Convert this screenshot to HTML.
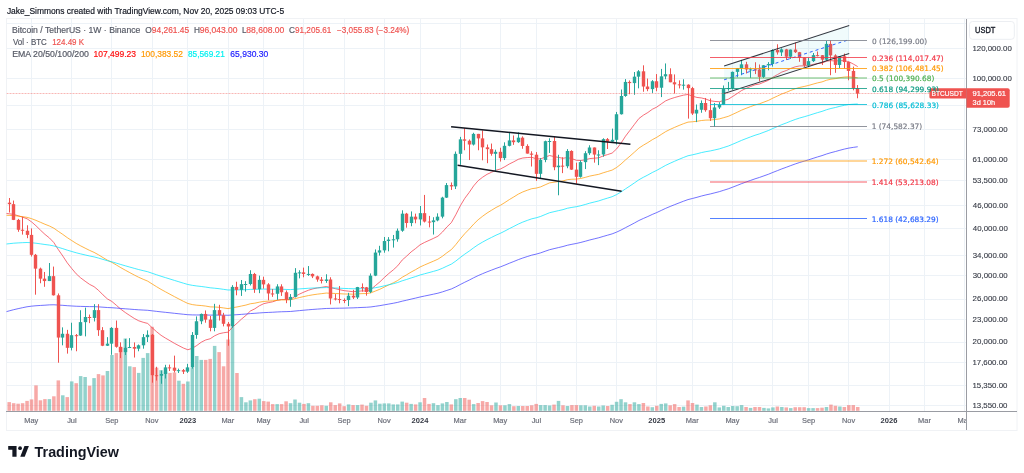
<!DOCTYPE html>
<html><head><meta charset="utf-8"><style>
*{margin:0;padding:0}
html,body{width:1024px;height:473px;background:#fff;overflow:hidden}
svg{position:absolute;left:0;top:0;display:block}
</style></head><body>
<svg width="1024" height="473" viewBox="0 0 1024 473">
<rect x="6.5" y="18.5" width="1010.5" height="412" fill="none" stroke="#f0f2f5"/>
<clipPath id="cp"><rect x="6.5" y="19" width="960" height="392"/></clipPath>
<clipPath id="cpt"><rect x="6.5" y="412" width="959.5" height="18"/></clipPath>
<g clip-path="url(#cp)">
<line x1="6.5" x2="966" y1="23.5" y2="23.5" stroke="#edf2f7"/>
<line x1="6.5" x2="966" y1="48.5" y2="48.5" stroke="#edf2f7"/>
<line x1="6.5" x2="966" y1="78.5" y2="78.5" stroke="#edf2f7"/>
<line x1="6.5" x2="966" y1="105.5" y2="105.5" stroke="#edf2f7"/>
<line x1="6.5" x2="966" y1="129.5" y2="129.5" stroke="#edf2f7"/>
<line x1="6.5" x2="966" y1="159.5" y2="159.5" stroke="#edf2f7"/>
<line x1="6.5" x2="966" y1="180.5" y2="180.5" stroke="#edf2f7"/>
<line x1="6.5" x2="966" y1="205.5" y2="205.5" stroke="#edf2f7"/>
<line x1="6.5" x2="966" y1="228.5" y2="228.5" stroke="#edf2f7"/>
<line x1="6.5" x2="966" y1="255.5" y2="255.5" stroke="#edf2f7"/>
<line x1="6.5" x2="966" y1="275.5" y2="275.5" stroke="#edf2f7"/>
<line x1="6.5" x2="966" y1="299.5" y2="299.5" stroke="#edf2f7"/>
<line x1="6.5" x2="966" y1="319.5" y2="319.5" stroke="#edf2f7"/>
<line x1="6.5" x2="966" y1="342.5" y2="342.5" stroke="#edf2f7"/>
<line x1="6.5" x2="966" y1="362.5" y2="362.5" stroke="#edf2f7"/>
<line x1="6.5" x2="966" y1="385.5" y2="385.5" stroke="#edf2f7"/>
<line x1="6.5" x2="966" y1="405.5" y2="405.5" stroke="#edf2f7"/>
<line x1="31.5" x2="31.5" y1="19" y2="411" stroke="#edf2f7"/>
<line x1="71.5" x2="71.5" y1="19" y2="411" stroke="#edf2f7"/>
<line x1="111.5" x2="111.5" y1="19" y2="411" stroke="#edf2f7"/>
<line x1="152.5" x2="152.5" y1="19" y2="411" stroke="#edf2f7"/>
<line x1="187.5" x2="187.5" y1="19" y2="411" stroke="#edf2f7"/>
<line x1="228.5" x2="228.5" y1="19" y2="411" stroke="#edf2f7"/>
<line x1="263.5" x2="263.5" y1="19" y2="411" stroke="#edf2f7"/>
<line x1="303.5" x2="303.5" y1="19" y2="411" stroke="#edf2f7"/>
<line x1="344.5" x2="344.5" y1="19" y2="411" stroke="#edf2f7"/>
<line x1="384.5" x2="384.5" y1="19" y2="411" stroke="#edf2f7"/>
<line x1="420.5" x2="420.5" y1="19" y2="411" stroke="#edf2f7"/>
<line x1="460.5" x2="460.5" y1="19" y2="411" stroke="#edf2f7"/>
<line x1="500.5" x2="500.5" y1="19" y2="411" stroke="#edf2f7"/>
<line x1="536.5" x2="536.5" y1="19" y2="411" stroke="#edf2f7"/>
<line x1="576.5" x2="576.5" y1="19" y2="411" stroke="#edf2f7"/>
<line x1="616.5" x2="616.5" y1="19" y2="411" stroke="#edf2f7"/>
<line x1="656.5" x2="656.5" y1="19" y2="411" stroke="#edf2f7"/>
<line x1="692.5" x2="692.5" y1="19" y2="411" stroke="#edf2f7"/>
<line x1="732.5" x2="732.5" y1="19" y2="411" stroke="#edf2f7"/>
<line x1="772.5" x2="772.5" y1="19" y2="411" stroke="#edf2f7"/>
<line x1="808.5" x2="808.5" y1="19" y2="411" stroke="#edf2f7"/>
<line x1="848.5" x2="848.5" y1="19" y2="411" stroke="#edf2f7"/>
<line x1="889.5" x2="889.5" y1="19" y2="411" stroke="#edf2f7"/>
<line x1="924.5" x2="924.5" y1="19" y2="411" stroke="#edf2f7"/>
<line x1="964.5" x2="964.5" y1="19" y2="411" stroke="#edf2f7"/>
<rect x="7.45" y="402.1" width="3.5" height="8.7" fill="rgba(239,83,80,0.5)"/>
<rect x="11.92" y="403.2" width="3.5" height="7.6" fill="rgba(239,83,80,0.5)"/>
<rect x="16.38" y="403.7" width="3.5" height="7.1" fill="rgba(239,83,80,0.5)"/>
<rect x="20.85" y="403.2" width="3.5" height="7.6" fill="rgba(239,83,80,0.5)"/>
<rect x="25.31" y="400.9" width="3.5" height="9.9" fill="rgba(239,83,80,0.5)"/>
<rect x="29.78" y="399.4" width="3.5" height="11.4" fill="rgba(239,83,80,0.5)"/>
<rect x="34.25" y="385.4" width="3.5" height="25.4" fill="rgba(239,83,80,0.5)"/>
<rect x="38.71" y="400.3" width="3.5" height="10.5" fill="rgba(239,83,80,0.5)"/>
<rect x="43.18" y="399.1" width="3.5" height="11.7" fill="rgba(239,83,80,0.5)"/>
<rect x="47.64" y="399.1" width="3.5" height="11.7" fill="rgba(38,166,154,0.5)"/>
<rect x="52.11" y="396.3" width="3.5" height="14.5" fill="rgba(239,83,80,0.5)"/>
<rect x="56.58" y="380.4" width="3.5" height="30.4" fill="rgba(239,83,80,0.5)"/>
<rect x="61.04" y="395.3" width="3.5" height="15.5" fill="rgba(38,166,154,0.5)"/>
<rect x="65.51" y="397.1" width="3.5" height="13.7" fill="rgba(239,83,80,0.5)"/>
<rect x="69.97" y="381.4" width="3.5" height="29.4" fill="rgba(38,166,154,0.5)"/>
<rect x="74.44" y="383.2" width="3.5" height="27.6" fill="rgba(239,83,80,0.5)"/>
<rect x="78.91" y="376.1" width="3.5" height="34.7" fill="rgba(38,166,154,0.5)"/>
<rect x="83.37" y="377" width="3.5" height="33.8" fill="rgba(38,166,154,0.5)"/>
<rect x="87.84" y="385.7" width="3.5" height="25.1" fill="rgba(239,83,80,0.5)"/>
<rect x="92.3" y="378.1" width="3.5" height="32.7" fill="rgba(38,166,154,0.5)"/>
<rect x="96.77" y="374.1" width="3.5" height="36.7" fill="rgba(239,83,80,0.5)"/>
<rect x="101.24" y="375.4" width="3.5" height="35.4" fill="rgba(239,83,80,0.5)"/>
<rect x="105.7" y="371" width="3.5" height="39.8" fill="rgba(38,166,154,0.5)"/>
<rect x="110.17" y="355" width="3.5" height="55.8" fill="rgba(38,166,154,0.5)"/>
<rect x="114.63" y="353.1" width="3.5" height="57.7" fill="rgba(239,83,80,0.5)"/>
<rect x="119.1" y="347.2" width="3.5" height="63.6" fill="rgba(239,83,80,0.5)"/>
<rect x="123.57" y="338.5" width="3.5" height="72.3" fill="rgba(38,166,154,0.5)"/>
<rect x="128.03" y="366.3" width="3.5" height="44.5" fill="rgba(38,166,154,0.5)"/>
<rect x="132.5" y="367.1" width="3.5" height="43.7" fill="rgba(239,83,80,0.5)"/>
<rect x="136.96" y="372.9" width="3.5" height="37.9" fill="rgba(38,166,154,0.5)"/>
<rect x="141.43" y="357.9" width="3.5" height="52.9" fill="rgba(38,166,154,0.5)"/>
<rect x="145.9" y="353.1" width="3.5" height="57.7" fill="rgba(38,166,154,0.5)"/>
<rect x="150.36" y="326.8" width="3.5" height="84" fill="rgba(239,83,80,0.5)"/>
<rect x="154.83" y="367.7" width="3.5" height="43.1" fill="rgba(239,83,80,0.5)"/>
<rect x="159.29" y="370.2" width="3.5" height="40.6" fill="rgba(38,166,154,0.5)"/>
<rect x="163.76" y="371.6" width="3.5" height="39.2" fill="rgba(38,166,154,0.5)"/>
<rect x="168.23" y="372.9" width="3.5" height="37.9" fill="rgba(239,83,80,0.5)"/>
<rect x="172.69" y="372.5" width="3.5" height="38.3" fill="rgba(239,83,80,0.5)"/>
<rect x="177.16" y="380.7" width="3.5" height="30.1" fill="rgba(38,166,154,0.5)"/>
<rect x="181.62" y="383.8" width="3.5" height="27" fill="rgba(239,83,80,0.5)"/>
<rect x="186.09" y="381.5" width="3.5" height="29.3" fill="rgba(38,166,154,0.5)"/>
<rect x="190.56" y="367.7" width="3.5" height="43.1" fill="rgba(38,166,154,0.5)"/>
<rect x="195.02" y="356" width="3.5" height="54.8" fill="rgba(38,166,154,0.5)"/>
<rect x="199.49" y="359.9" width="3.5" height="50.9" fill="rgba(38,166,154,0.5)"/>
<rect x="203.95" y="359.9" width="3.5" height="50.9" fill="rgba(239,83,80,0.5)"/>
<rect x="208.42" y="358.9" width="3.5" height="51.9" fill="rgba(239,83,80,0.5)"/>
<rect x="212.89" y="345.9" width="3.5" height="64.9" fill="rgba(38,166,154,0.5)"/>
<rect x="217.35" y="352.1" width="3.5" height="58.7" fill="rgba(239,83,80,0.5)"/>
<rect x="221.82" y="366.3" width="3.5" height="44.5" fill="rgba(239,83,80,0.5)"/>
<rect x="226.28" y="339.5" width="3.5" height="71.3" fill="rgba(239,83,80,0.5)"/>
<rect x="230.75" y="327" width="3.5" height="83.8" fill="rgba(38,166,154,0.5)"/>
<rect x="235.22" y="373" width="3.5" height="37.8" fill="rgba(239,83,80,0.5)"/>
<rect x="239.68" y="397.1" width="3.5" height="13.7" fill="rgba(38,166,154,0.5)"/>
<rect x="244.15" y="402.3" width="3.5" height="8.5" fill="rgba(38,166,154,0.5)"/>
<rect x="248.61" y="400.4" width="3.5" height="10.4" fill="rgba(38,166,154,0.5)"/>
<rect x="253.08" y="399.2" width="3.5" height="11.6" fill="rgba(239,83,80,0.5)"/>
<rect x="257.55" y="398.7" width="3.5" height="12.1" fill="rgba(38,166,154,0.5)"/>
<rect x="262.01" y="401.1" width="3.5" height="9.7" fill="rgba(239,83,80,0.5)"/>
<rect x="266.48" y="401.6" width="3.5" height="9.2" fill="rgba(239,83,80,0.5)"/>
<rect x="270.94" y="404.1" width="3.5" height="6.7" fill="rgba(239,83,80,0.5)"/>
<rect x="275.41" y="404.1" width="3.5" height="6.7" fill="rgba(38,166,154,0.5)"/>
<rect x="279.88" y="404.1" width="3.5" height="6.7" fill="rgba(239,83,80,0.5)"/>
<rect x="284.34" y="401.3" width="3.5" height="9.5" fill="rgba(239,83,80,0.5)"/>
<rect x="288.81" y="403.2" width="3.5" height="7.6" fill="rgba(38,166,154,0.5)"/>
<rect x="293.27" y="399.5" width="3.5" height="11.3" fill="rgba(38,166,154,0.5)"/>
<rect x="297.74" y="402.7" width="3.5" height="8.1" fill="rgba(38,166,154,0.5)"/>
<rect x="302.21" y="403.9" width="3.5" height="6.9" fill="rgba(239,83,80,0.5)"/>
<rect x="306.67" y="403.2" width="3.5" height="7.6" fill="rgba(38,166,154,0.5)"/>
<rect x="311.14" y="405.8" width="3.5" height="5" fill="rgba(239,83,80,0.5)"/>
<rect x="315.6" y="405.8" width="3.5" height="5" fill="rgba(239,83,80,0.5)"/>
<rect x="320.07" y="405.3" width="3.5" height="5.5" fill="rgba(239,83,80,0.5)"/>
<rect x="324.54" y="405.8" width="3.5" height="5" fill="rgba(38,166,154,0.5)"/>
<rect x="329" y="402.3" width="3.5" height="8.5" fill="rgba(239,83,80,0.5)"/>
<rect x="333.47" y="405.1" width="3.5" height="5.7" fill="rgba(239,83,80,0.5)"/>
<rect x="337.93" y="403.4" width="3.5" height="7.4" fill="rgba(239,83,80,0.5)"/>
<rect x="342.4" y="406.2" width="3.5" height="4.6" fill="rgba(239,83,80,0.5)"/>
<rect x="346.87" y="404.4" width="3.5" height="6.4" fill="rgba(38,166,154,0.5)"/>
<rect x="351.33" y="405.1" width="3.5" height="5.7" fill="rgba(239,83,80,0.5)"/>
<rect x="355.8" y="405.1" width="3.5" height="5.7" fill="rgba(38,166,154,0.5)"/>
<rect x="360.26" y="404.6" width="3.5" height="6.2" fill="rgba(239,83,80,0.5)"/>
<rect x="364.73" y="405.8" width="3.5" height="5" fill="rgba(239,83,80,0.5)"/>
<rect x="369.2" y="402.7" width="3.5" height="8.1" fill="rgba(38,166,154,0.5)"/>
<rect x="373.66" y="400.4" width="3.5" height="10.4" fill="rgba(38,166,154,0.5)"/>
<rect x="378.13" y="403.7" width="3.5" height="7.1" fill="rgba(38,166,154,0.5)"/>
<rect x="382.59" y="403.4" width="3.5" height="7.4" fill="rgba(38,166,154,0.5)"/>
<rect x="387.06" y="403.4" width="3.5" height="7.4" fill="rgba(38,166,154,0.5)"/>
<rect x="391.53" y="404.4" width="3.5" height="6.4" fill="rgba(38,166,154,0.5)"/>
<rect x="395.99" y="404.4" width="3.5" height="6.4" fill="rgba(38,166,154,0.5)"/>
<rect x="400.46" y="401.6" width="3.5" height="9.2" fill="rgba(38,166,154,0.5)"/>
<rect x="404.92" y="402.7" width="3.5" height="8.1" fill="rgba(239,83,80,0.5)"/>
<rect x="409.39" y="403.9" width="3.5" height="6.9" fill="rgba(38,166,154,0.5)"/>
<rect x="413.86" y="404.4" width="3.5" height="6.4" fill="rgba(239,83,80,0.5)"/>
<rect x="418.32" y="402.3" width="3.5" height="8.5" fill="rgba(38,166,154,0.5)"/>
<rect x="422.79" y="398" width="3.5" height="12.8" fill="rgba(239,83,80,0.5)"/>
<rect x="427.25" y="403.9" width="3.5" height="6.9" fill="rgba(239,83,80,0.5)"/>
<rect x="431.72" y="403.2" width="3.5" height="7.6" fill="rgba(38,166,154,0.5)"/>
<rect x="436.19" y="405.1" width="3.5" height="5.7" fill="rgba(38,166,154,0.5)"/>
<rect x="440.65" y="403.4" width="3.5" height="7.4" fill="rgba(38,166,154,0.5)"/>
<rect x="445.12" y="402" width="3.5" height="8.8" fill="rgba(38,166,154,0.5)"/>
<rect x="449.58" y="404.4" width="3.5" height="6.4" fill="rgba(239,83,80,0.5)"/>
<rect x="454.05" y="399.2" width="3.5" height="11.6" fill="rgba(38,166,154,0.5)"/>
<rect x="458.52" y="398" width="3.5" height="12.8" fill="rgba(38,166,154,0.5)"/>
<rect x="462.98" y="398" width="3.5" height="12.8" fill="rgba(239,83,80,0.5)"/>
<rect x="467.45" y="399.7" width="3.5" height="11.1" fill="rgba(239,83,80,0.5)"/>
<rect x="471.91" y="404.1" width="3.5" height="6.7" fill="rgba(38,166,154,0.5)"/>
<rect x="476.38" y="403" width="3.5" height="7.8" fill="rgba(239,83,80,0.5)"/>
<rect x="480.85" y="401.1" width="3.5" height="9.7" fill="rgba(239,83,80,0.5)"/>
<rect x="485.31" y="402" width="3.5" height="8.8" fill="rgba(239,83,80,0.5)"/>
<rect x="489.78" y="405.3" width="3.5" height="5.5" fill="rgba(239,83,80,0.5)"/>
<rect x="494.24" y="402.5" width="3.5" height="8.3" fill="rgba(38,166,154,0.5)"/>
<rect x="498.71" y="405.3" width="3.5" height="5.5" fill="rgba(239,83,80,0.5)"/>
<rect x="503.18" y="405.3" width="3.5" height="5.5" fill="rgba(38,166,154,0.5)"/>
<rect x="507.64" y="404.1" width="3.5" height="6.7" fill="rgba(38,166,154,0.5)"/>
<rect x="512.11" y="406.2" width="3.5" height="4.6" fill="rgba(239,83,80,0.5)"/>
<rect x="516.57" y="406" width="3.5" height="4.8" fill="rgba(38,166,154,0.5)"/>
<rect x="521.04" y="406" width="3.5" height="4.8" fill="rgba(239,83,80,0.5)"/>
<rect x="525.51" y="406" width="3.5" height="4.8" fill="rgba(239,83,80,0.5)"/>
<rect x="529.97" y="405.3" width="3.5" height="5.5" fill="rgba(239,83,80,0.5)"/>
<rect x="534.44" y="403.9" width="3.5" height="6.9" fill="rgba(239,83,80,0.5)"/>
<rect x="538.9" y="405.1" width="3.5" height="5.7" fill="rgba(38,166,154,0.5)"/>
<rect x="543.37" y="405.1" width="3.5" height="5.7" fill="rgba(38,166,154,0.5)"/>
<rect x="547.84" y="405.5" width="3.5" height="5.3" fill="rgba(38,166,154,0.5)"/>
<rect x="552.3" y="404.6" width="3.5" height="6.2" fill="rgba(239,83,80,0.5)"/>
<rect x="556.77" y="400.9" width="3.5" height="9.9" fill="rgba(38,166,154,0.5)"/>
<rect x="561.23" y="405.3" width="3.5" height="5.5" fill="rgba(239,83,80,0.5)"/>
<rect x="565.7" y="406" width="3.5" height="4.8" fill="rgba(38,166,154,0.5)"/>
<rect x="570.17" y="405.1" width="3.5" height="5.7" fill="rgba(239,83,80,0.5)"/>
<rect x="574.63" y="405.1" width="3.5" height="5.7" fill="rgba(239,83,80,0.5)"/>
<rect x="579.1" y="405.3" width="3.5" height="5.5" fill="rgba(38,166,154,0.5)"/>
<rect x="583.56" y="405.3" width="3.5" height="5.5" fill="rgba(38,166,154,0.5)"/>
<rect x="588.03" y="406.5" width="3.5" height="4.3" fill="rgba(38,166,154,0.5)"/>
<rect x="592.5" y="405.8" width="3.5" height="5" fill="rgba(239,83,80,0.5)"/>
<rect x="596.96" y="406.5" width="3.5" height="4.3" fill="rgba(38,166,154,0.5)"/>
<rect x="601.43" y="405.5" width="3.5" height="5.3" fill="rgba(38,166,154,0.5)"/>
<rect x="605.89" y="406" width="3.5" height="4.8" fill="rgba(239,83,80,0.5)"/>
<rect x="610.36" y="404.8" width="3.5" height="6" fill="rgba(38,166,154,0.5)"/>
<rect x="614.83" y="401.8" width="3.5" height="9" fill="rgba(38,166,154,0.5)"/>
<rect x="619.29" y="399.2" width="3.5" height="11.6" fill="rgba(38,166,154,0.5)"/>
<rect x="623.76" y="402.3" width="3.5" height="8.5" fill="rgba(38,166,154,0.5)"/>
<rect x="628.22" y="404.1" width="3.5" height="6.7" fill="rgba(239,83,80,0.5)"/>
<rect x="632.69" y="402.3" width="3.5" height="8.5" fill="rgba(38,166,154,0.5)"/>
<rect x="637.16" y="404.1" width="3.5" height="6.7" fill="rgba(38,166,154,0.5)"/>
<rect x="641.62" y="403" width="3.5" height="7.8" fill="rgba(239,83,80,0.5)"/>
<rect x="646.09" y="406.5" width="3.5" height="4.3" fill="rgba(239,83,80,0.5)"/>
<rect x="650.55" y="407.2" width="3.5" height="3.6" fill="rgba(38,166,154,0.5)"/>
<rect x="655.02" y="405.8" width="3.5" height="5" fill="rgba(239,83,80,0.5)"/>
<rect x="659.49" y="403.9" width="3.5" height="6.9" fill="rgba(38,166,154,0.5)"/>
<rect x="663.95" y="403.4" width="3.5" height="7.4" fill="rgba(38,166,154,0.5)"/>
<rect x="668.42" y="405.3" width="3.5" height="5.5" fill="rgba(239,83,80,0.5)"/>
<rect x="672.88" y="404.1" width="3.5" height="6.7" fill="rgba(239,83,80,0.5)"/>
<rect x="677.35" y="407" width="3.5" height="3.8" fill="rgba(239,83,80,0.5)"/>
<rect x="681.82" y="406.7" width="3.5" height="4.1" fill="rgba(38,166,154,0.5)"/>
<rect x="686.28" y="400.4" width="3.5" height="10.4" fill="rgba(239,83,80,0.5)"/>
<rect x="690.75" y="403" width="3.5" height="7.8" fill="rgba(239,83,80,0.5)"/>
<rect x="695.21" y="404.6" width="3.5" height="6.2" fill="rgba(38,166,154,0.5)"/>
<rect x="699.68" y="407" width="3.5" height="3.8" fill="rgba(38,166,154,0.5)"/>
<rect x="704.15" y="406.5" width="3.5" height="4.3" fill="rgba(239,83,80,0.5)"/>
<rect x="708.61" y="405.3" width="3.5" height="5.5" fill="rgba(239,83,80,0.5)"/>
<rect x="713.08" y="402.3" width="3.5" height="8.5" fill="rgba(38,166,154,0.5)"/>
<rect x="717.54" y="407.4" width="3.5" height="3.4" fill="rgba(38,166,154,0.5)"/>
<rect x="722.01" y="405.8" width="3.5" height="5" fill="rgba(38,166,154,0.5)"/>
<rect x="726.48" y="407" width="3.5" height="3.8" fill="rgba(38,166,154,0.5)"/>
<rect x="730.94" y="406" width="3.5" height="4.8" fill="rgba(38,166,154,0.5)"/>
<rect x="735.41" y="406.2" width="3.5" height="4.6" fill="rgba(38,166,154,0.5)"/>
<rect x="739.87" y="405.1" width="3.5" height="5.7" fill="rgba(38,166,154,0.5)"/>
<rect x="744.34" y="407" width="3.5" height="3.8" fill="rgba(239,83,80,0.5)"/>
<rect x="748.81" y="407.9" width="3.5" height="2.9" fill="rgba(38,166,154,0.5)"/>
<rect x="753.27" y="407" width="3.5" height="3.8" fill="rgba(239,83,80,0.5)"/>
<rect x="757.74" y="407" width="3.5" height="3.8" fill="rgba(239,83,80,0.5)"/>
<rect x="762.2" y="407.9" width="3.5" height="2.9" fill="rgba(38,166,154,0.5)"/>
<rect x="766.67" y="408.4" width="3.5" height="2.4" fill="rgba(38,166,154,0.5)"/>
<rect x="771.14" y="407.4" width="3.5" height="3.4" fill="rgba(38,166,154,0.5)"/>
<rect x="775.6" y="406.5" width="3.5" height="4.3" fill="rgba(239,83,80,0.5)"/>
<rect x="780.07" y="407" width="3.5" height="3.8" fill="rgba(38,166,154,0.5)"/>
<rect x="784.53" y="407.4" width="3.5" height="3.4" fill="rgba(239,83,80,0.5)"/>
<rect x="789" y="408.1" width="3.5" height="2.7" fill="rgba(38,166,154,0.5)"/>
<rect x="793.47" y="407.2" width="3.5" height="3.6" fill="rgba(239,83,80,0.5)"/>
<rect x="797.93" y="407.2" width="3.5" height="3.6" fill="rgba(239,83,80,0.5)"/>
<rect x="802.4" y="407.2" width="3.5" height="3.6" fill="rgba(239,83,80,0.5)"/>
<rect x="806.86" y="408.1" width="3.5" height="2.7" fill="rgba(38,166,154,0.5)"/>
<rect x="811.33" y="408.1" width="3.5" height="2.7" fill="rgba(38,166,154,0.5)"/>
<rect x="815.8" y="408.1" width="3.5" height="2.7" fill="rgba(239,83,80,0.5)"/>
<rect x="820.26" y="407.7" width="3.5" height="3.1" fill="rgba(239,83,80,0.5)"/>
<rect x="824.73" y="407" width="3.5" height="3.8" fill="rgba(38,166,154,0.5)"/>
<rect x="829.19" y="404.6" width="3.5" height="6.2" fill="rgba(239,83,80,0.5)"/>
<rect x="833.66" y="405.8" width="3.5" height="5" fill="rgba(239,83,80,0.5)"/>
<rect x="838.13" y="406.5" width="3.5" height="4.3" fill="rgba(38,166,154,0.5)"/>
<rect x="842.59" y="407" width="3.5" height="3.8" fill="rgba(239,83,80,0.5)"/>
<rect x="847.06" y="405.1" width="3.5" height="5.7" fill="rgba(239,83,80,0.5)"/>
<rect x="851.52" y="405.1" width="3.5" height="5.7" fill="rgba(239,83,80,0.5)"/>
<rect x="855.99" y="407" width="3.5" height="3.8" fill="rgba(239,83,80,0.5)"/>
<polyline points="4.73,213.24 9.2,213.81 13.67,214.38 18.13,215.78 22.6,217.15 27.06,218.76 31.53,221.87 36,225.79 40.46,230.15 44.93,234.37 49.39,237.92 53.86,242.6 58.33,249.61 62.79,256 67.26,262.84 71.72,268.5 76.19,273.83 80.66,277.86 85.12,281.21 89.59,284.37 94.05,286.66 98.52,290.34 102.99,294.88 107.45,298.94 111.92,301.49 116.38,305.3 120.85,309.23 125.32,312.54 129.78,315.52 134.25,318.41 138.71,320.79 143.18,322.28 147.65,323.43 152.11,327.71 156.58,331.72 161.04,335.31 165.51,338.11 169.98,340.7 174.44,343.34 178.91,345.71 183.37,348.01 187.84,349.76 192.31,348.29 196.77,345.51 201.24,342.23 205.7,339.94 210.17,338.75 214.64,335.8 219.1,333.72 223.57,332.75 228.03,332.14 232.5,327.25 236.97,323.3 241.43,319.15 245.9,315.45 250.36,311.02 254.83,308.82 259.3,305.83 263.76,303.66 268.23,302.66 272.69,301.8 277.16,300.27 281.63,299.49 286.09,299.51 290.56,299.26 295.02,296.54 299.49,294.08 303.96,292.06 308.42,290.24 312.89,288.87 317.35,287.95 321.82,287.27 326.29,286.51 330.75,287.62 335.22,288.67 339.68,289.71 344.15,290.67 348.62,291.15 353.08,291.74 357.55,291.29 362.01,290.91 366.48,291.01 370.95,289.48 375.41,285.59 379.88,281.88 384.34,277.53 388.81,273.51 393.28,269.92 397.74,265.76 402.21,260.02 406.67,256.11 411.14,251.92 415.61,248.53 420.07,244.81 424.54,242.45 429,240.41 433.47,238.39 437.94,236.19 442.4,232.1 446.87,227 451.33,222.66 455.8,214.71 460.27,205.84 464.73,198.4 469.2,192.43 473.66,185.86 478.13,180.7 482.6,177.21 487.06,174.32 491.53,172.25 495.99,170.19 500.46,169 504.93,166.65 509.39,163.96 513.86,161.76 518.32,159.31 522.79,157.99 527.26,157.56 531.72,157.29 536.19,158.79 540.65,158.9 545.12,157.13 549.59,155.53 554.05,156.6 558.52,157.44 562.98,158.26 567.45,157.55 571.92,158.67 576.38,160.31 580.85,160.49 585.31,159.78 589.78,158.57 594.25,158.18 598.71,157.83 603.18,155.96 607.64,154.55 612.11,153.09 616.58,148.96 621.04,143.11 625.51,136.2 629.97,130.33 634.44,124.39 638.91,118.53 643.37,115.2 647.84,112.52 652.3,109.27 656.77,107.09 661.24,103.9 665.7,100.83 670.17,98.97 674.63,97.52 679.1,96.28 683.57,95.14 688.03,94.46 692.5,96.18 696.96,97.43 701.43,97.95 705.9,99.08 710.36,100.81 714.83,101.43 719.29,101.74 723.76,100.49 728.23,99.26 732.69,96.45 737.16,93.54 741.62,90.52 746.09,88.4 750.56,86.49 755.02,84.79 759.49,84.03 763.95,82.14 768.42,80.33 772.89,77.19 777.35,74.66 781.82,72.07 786.28,70.54 790.75,68.43 795.22,66.81 799.68,65.92 804.15,65.88 808.61,65.42 813.08,64.41 817.55,63.51 822.01,63.15 826.48,61.21 830.94,60.65 835.41,61.06 839.88,60.6 844.34,60.73 848.81,61.68 853.27,64.02 857.74,66.61" fill="none" stroke="#f23645" stroke-width="1" opacity="0.72"/>
<polyline points="4.73,215.23 9.2,215.4 13.67,215.58 18.13,216.11 22.6,216.66 27.06,217.34 31.53,218.66 36,220.36 40.46,222.29 44.93,224.24 49.39,225.99 53.86,228.22 58.33,231.38 62.79,234.4 67.26,237.64 71.72,240.55 76.19,243.4 80.66,245.87 85.12,248.15 89.59,250.39 94.05,252.36 98.52,254.81 102.99,257.57 107.45,260.21 111.92,262.4 116.38,265.01 120.85,267.68 125.32,270.19 129.78,272.61 134.25,275.01 138.71,277.27 143.18,279.25 147.65,281.11 152.11,283.94 156.58,286.72 161.04,289.39 165.51,291.84 169.98,294.24 174.44,296.65 178.91,298.99 183.37,301.31 187.84,303.45 192.31,304.58 196.77,305.21 201.24,305.54 205.7,306.07 210.17,306.87 214.64,307 219.1,307.31 223.57,307.93 228.03,308.62 232.5,307.71 236.97,306.97 241.43,306.02 245.9,305.09 250.36,303.76 254.83,303.16 259.3,302.18 263.76,301.45 268.23,301.13 272.69,300.83 277.16,300.24 281.63,299.92 286.09,299.91 290.56,299.8 295.02,298.65 299.49,297.53 303.96,296.54 308.42,295.59 312.89,294.8 317.35,294.17 321.82,293.63 326.29,293.05 330.75,293.26 335.22,293.48 339.68,293.73 344.15,293.98 348.62,294.05 353.08,294.18 357.55,293.89 362.01,293.63 366.48,293.56 370.95,292.82 375.41,291.04 379.88,289.24 384.34,287.06 388.81,284.92 393.28,282.86 397.74,280.47 402.21,277.27 406.67,274.77 411.14,272.06 415.61,269.64 420.07,267.01 424.54,264.97 429,263.06 433.47,261.16 437.94,259.17 442.4,256.27 446.87,252.81 451.33,249.63 455.8,244.6 460.27,238.91 464.73,233.72 469.2,229.13 473.66,224.14 478.13,219.78 482.6,216.24 487.06,213.02 491.53,210.25 495.99,207.52 500.46,205.27 504.93,202.49 509.39,199.55 513.86,196.88 518.32,194.11 522.79,191.93 527.26,190.24 531.72,188.69 536.19,188.08 540.65,186.88 545.12,184.83 549.59,182.87 554.05,182.23 558.52,181.55 562.98,180.92 567.45,179.63 571.92,179.23 576.38,179.14 580.85,178.44 585.31,177.37 589.78,176.09 594.25,175.19 598.71,174.33 603.18,172.8 607.64,171.46 612.11,170.1 616.58,167.51 621.04,164.03 625.51,159.9 629.97,156.1 634.44,152.14 638.91,148.09 643.37,145.19 647.84,142.59 652.3,139.69 656.77,137.31 661.24,134.44 665.7,131.61 670.17,129.37 674.63,127.35 679.1,125.46 683.57,123.66 688.03,122.11 692.5,121.76 696.96,121.27 701.43,120.52 705.9,120.1 710.36,120.03 714.83,119.52 719.29,118.91 723.76,117.63 728.23,116.36 732.69,114.37 737.16,112.29 741.62,110.12 746.09,108.32 750.56,106.61 755.02,104.98 759.49,103.79 763.95,102.09 768.42,100.42 772.89,98.12 777.35,96.07 781.82,93.96 786.28,92.33 790.75,90.42 795.22,88.74 799.68,87.41 804.15,86.49 808.61,85.42 813.08,84.12 817.55,82.88 822.01,81.91 826.48,80.24 830.94,79.19 835.41,78.61 839.88,77.67 844.34,77.03 848.81,76.79 853.27,77.22 857.74,77.83" fill="none" stroke="#ff9800" stroke-width="1" opacity="0.72"/>
<polyline points="4.73,244.21 9.2,243.7 13.67,243.19 18.13,242.92 22.6,242.67 27.06,242.51 31.53,242.74 36,243.22 40.46,243.85 44.93,244.51 49.39,245.08 53.86,245.94 58.33,247.34 62.79,248.67 67.26,250.15 71.72,251.47 76.19,252.78 80.66,253.9 85.12,254.94 89.59,255.98 94.05,256.89 98.52,258.07 102.99,259.42 107.45,260.73 111.92,261.82 116.38,263.14 120.85,264.5 125.32,265.8 129.78,267.08 134.25,268.35 138.71,269.57 143.18,270.67 147.65,271.73 152.11,273.25 156.58,274.77 161.04,276.25 165.51,277.64 169.98,279.02 174.44,280.41 178.91,281.79 183.37,283.16 187.84,284.47 192.31,285.33 196.77,285.97 201.24,286.48 205.7,287.08 210.17,287.79 214.64,288.21 219.1,288.7 223.57,289.33 228.03,289.99 232.5,289.93 236.97,289.93 241.43,289.81 245.9,289.69 250.36,289.37 254.83,289.36 259.3,289.17 263.76,289.07 268.23,289.16 272.69,289.25 277.16,289.19 281.63,289.25 286.09,289.45 290.56,289.6 295.02,289.25 299.49,288.9 303.96,288.59 308.42,288.28 312.89,288.04 317.35,287.87 321.82,287.73 326.29,287.56 330.75,287.77 335.22,287.98 339.68,288.21 344.15,288.44 348.62,288.58 353.08,288.75 357.55,288.72 362.01,288.69 366.48,288.76 370.95,288.49 375.41,287.69 379.88,286.86 384.34,285.82 388.81,284.77 393.28,283.73 397.74,282.5 402.21,280.81 406.67,279.44 411.14,277.94 415.61,276.55 420.07,275.02 424.54,273.78 429,272.58 433.47,271.37 437.94,270.09 442.4,268.29 446.87,266.16 451.33,264.13 455.8,261.05 460.27,257.51 464.73,254.17 469.2,251.11 473.66,247.75 478.13,244.7 482.6,242.08 487.06,239.63 491.53,237.41 495.99,235.2 500.46,233.26 504.93,230.99 509.39,228.61 513.86,226.37 518.32,224.05 522.79,222.08 527.26,220.41 531.72,218.82 536.19,217.8 540.65,216.43 545.12,214.55 549.59,212.72 554.05,211.68 558.52,210.63 562.98,209.63 567.45,208.24 571.92,207.38 576.38,206.71 580.85,205.7 585.31,204.48 589.78,203.14 594.25,202.02 598.71,200.93 603.18,199.45 607.64,198.09 612.11,196.71 616.58,194.6 621.04,191.94 625.51,188.87 629.97,185.95 634.44,182.9 638.91,179.76 643.37,177.29 647.84,175 652.3,172.51 656.77,170.33 661.24,167.83 665.7,165.35 670.17,163.22 674.63,161.23 679.1,159.31 683.57,157.45 688.03,155.75 692.5,154.8 696.96,153.78 701.43,152.6 705.9,151.65 710.36,150.91 714.83,149.93 719.29,148.9 723.76,147.48 728.23,146.07 732.69,144.22 737.16,142.31 741.62,140.35 746.09,138.6 750.56,136.9 755.02,135.26 759.49,133.88 763.95,132.2 768.42,130.53 772.89,128.49 777.35,126.58 781.82,124.64 786.28,122.98 790.75,121.15 795.22,119.47 799.68,117.99 804.15,116.77 808.61,115.46 813.08,114.02 817.55,112.63 822.01,111.39 826.48,109.75 830.94,108.48 835.41,107.49 839.88,106.31 844.34,105.3 848.81,104.55 853.27,104.21 857.74,103.99" fill="none" stroke="#00e5ff" stroke-width="1" opacity="0.72"/>
<polyline points="4.73,312.11 9.2,310.89 13.67,309.69 18.13,308.67 22.6,307.68 27.06,306.77 31.53,306.16 36,305.74 40.46,305.45 44.93,305.19 49.39,304.87 53.86,304.77 58.33,305.07 62.79,305.33 67.26,305.7 71.72,305.97 76.19,306.24 80.66,306.39 85.12,306.5 89.59,306.61 94.05,306.64 98.52,306.86 102.99,307.2 107.45,307.53 111.92,307.72 116.38,308.06 120.85,308.45 125.32,308.8 129.78,309.14 134.25,309.49 138.71,309.81 143.18,310.06 147.65,310.29 152.11,310.82 156.58,311.36 161.04,311.87 165.51,312.34 169.98,312.81 174.44,313.3 178.91,313.78 183.37,314.26 187.84,314.71 192.31,314.9 196.77,314.97 201.24,314.95 205.7,315 210.17,315.12 214.64,315.07 219.1,315.07 223.57,315.16 228.03,315.27 232.5,314.96 236.97,314.69 241.43,314.36 245.9,314.03 250.36,313.58 254.83,313.31 259.3,312.95 263.76,312.64 268.23,312.43 272.69,312.24 277.16,311.96 281.63,311.75 286.09,311.63 290.56,311.47 295.02,311.04 299.49,310.61 303.96,310.2 308.42,309.79 312.89,309.43 317.35,309.1 321.82,308.79 326.29,308.48 330.75,308.37 335.22,308.28 339.68,308.19 344.15,308.11 348.62,307.98 353.08,307.87 357.55,307.65 362.01,307.44 366.48,307.28 370.95,306.93 375.41,306.29 379.88,305.63 384.34,304.84 388.81,304.05 393.28,303.26 397.74,302.35 402.21,301.18 406.67,300.19 411.14,299.11 415.61,298.09 420.07,296.99 424.54,296.04 429,295.11 433.47,294.17 437.94,293.19 442.4,291.9 446.87,290.41 451.33,288.97 455.8,286.89 460.27,284.53 464.73,282.25 469.2,280.12 473.66,277.78 478.13,275.61 482.6,273.68 487.06,271.84 491.53,270.13 495.99,268.41 500.46,266.85 504.93,265.08 509.39,263.23 513.86,261.46 518.32,259.63 522.79,258 527.26,256.55 531.72,255.15 536.19,254.11 540.65,252.85 545.12,251.26 549.59,249.71 554.05,248.64 558.52,247.57 562.98,246.53 567.45,245.24 571.92,244.29 576.38,243.46 580.85,242.41 585.31,241.24 589.78,239.98 594.25,238.87 598.71,237.78 603.18,236.44 607.64,235.17 612.11,233.88 616.58,232.14 621.04,230.04 625.51,227.66 629.97,225.37 634.44,222.97 638.91,220.51 643.37,218.46 647.84,216.51 652.3,214.43 656.77,212.54 661.24,210.44 665.7,208.34 670.17,206.46 674.63,204.66 679.1,202.92 683.57,201.2 688.03,199.59 692.5,198.46 696.96,197.3 701.43,196.03 705.9,194.91 710.36,193.94 714.83,192.81 719.29,191.66 723.76,190.24 728.23,188.84 732.69,187.15 737.16,185.42 741.62,183.64 746.09,182.01 750.56,180.41 755.02,178.84 759.49,177.43 763.95,175.84 768.42,174.25 772.89,172.41 777.35,170.66 781.82,168.88 786.28,167.28 790.75,165.58 795.22,163.96 799.68,162.48 804.15,161.17 808.61,159.8 813.08,158.35 817.55,156.93 822.01,155.61 826.48,154.02 830.94,152.68 835.41,151.53 839.88,150.25 844.34,149.09 848.81,148.1 853.27,147.38 857.74,146.75" fill="none" stroke="#3d3dff" stroke-width="1" opacity="0.72"/>
<line x1="9.5" x2="9.5" y1="198" y2="212.52" stroke="#ef5350" stroke-width="1"/>
<rect x="7.8" y="202.69" width="3.4" height="1.48" fill="#ef5350"/>
<line x1="13.5" x2="13.5" y1="200.55" y2="220.09" stroke="#ef5350" stroke-width="1"/>
<rect x="11.8" y="204.17" width="3.4" height="15.72" fill="#ef5350"/>
<line x1="18.5" x2="18.5" y1="218.9" y2="231.81" stroke="#ef5350" stroke-width="1"/>
<rect x="16.8" y="219.89" width="3.4" height="9.88" fill="#ef5350"/>
<line x1="22.5" x2="22.5" y1="216.75" y2="234.6" stroke="#ef5350" stroke-width="1"/>
<rect x="20.8" y="229.77" width="3.4" height="1" fill="#ef5350"/>
<line x1="27.5" x2="27.5" y1="225.27" y2="238.19" stroke="#ef5350" stroke-width="1"/>
<rect x="25.8" y="230.76" width="3.4" height="4.12" fill="#ef5350"/>
<line x1="31.5" x2="31.5" y1="228.4" y2="256.5" stroke="#ef5350" stroke-width="1"/>
<rect x="29.8" y="234.89" width="3.4" height="19.93" fill="#ef5350"/>
<line x1="35.5" x2="35.5" y1="253.94" y2="294.69" stroke="#ef5350" stroke-width="1"/>
<rect x="33.8" y="254.82" width="3.4" height="13.81" fill="#ef5350"/>
<line x1="40.5" x2="40.5" y1="267.62" y2="283.26" stroke="#ef5350" stroke-width="1"/>
<rect x="38.8" y="268.63" width="3.4" height="10.03" fill="#ef5350"/>
<line x1="44.5" x2="44.5" y1="271.96" y2="286.79" stroke="#ef5350" stroke-width="1"/>
<rect x="42.8" y="278.66" width="3.4" height="2.39" fill="#ef5350"/>
<line x1="49.5" x2="49.5" y1="263" y2="281.05" stroke="#26a69a" stroke-width="1"/>
<rect x="47.8" y="276.15" width="3.4" height="4.9" fill="#26a69a"/>
<line x1="53.5" x2="53.5" y1="266.58" y2="295.55" stroke="#ef5350" stroke-width="1"/>
<rect x="51.8" y="276.15" width="3.4" height="19.15" fill="#ef5350"/>
<line x1="58.5" x2="58.5" y1="293.47" y2="362.73" stroke="#ef5350" stroke-width="1"/>
<rect x="56.8" y="295.3" width="3.4" height="42.26" fill="#ef5350"/>
<line x1="62.5" x2="62.5" y1="327.36" y2="345.31" stroke="#26a69a" stroke-width="1"/>
<rect x="60.8" y="333.78" width="3.4" height="3.78" fill="#26a69a"/>
<line x1="67.5" x2="67.5" y1="329.85" y2="353.62" stroke="#ef5350" stroke-width="1"/>
<rect x="65.8" y="333.78" width="3.4" height="14.06" fill="#ef5350"/>
<line x1="71.5" x2="71.5" y1="322.71" y2="350.4" stroke="#26a69a" stroke-width="1"/>
<rect x="69.8" y="335.19" width="3.4" height="12.65" fill="#26a69a"/>
<line x1="76.5" x2="76.5" y1="334.01" y2="351.26" stroke="#ef5350" stroke-width="1"/>
<rect x="74.8" y="335.19" width="3.4" height="1" fill="#ef5350"/>
<line x1="80.5" x2="80.5" y1="310.25" y2="335.89" stroke="#26a69a" stroke-width="1"/>
<rect x="78.8" y="322.13" width="3.4" height="13.45" fill="#26a69a"/>
<line x1="85.5" x2="85.5" y1="307.64" y2="336.37" stroke="#26a69a" stroke-width="1"/>
<rect x="83.8" y="316.99" width="3.4" height="5.14" fill="#26a69a"/>
<line x1="89.5" x2="89.5" y1="314.55" y2="323.15" stroke="#ef5350" stroke-width="1"/>
<rect x="87.8" y="316.99" width="3.4" height="1" fill="#ef5350"/>
<line x1="94.5" x2="94.5" y1="304.16" y2="321.48" stroke="#26a69a" stroke-width="1"/>
<rect x="92.8" y="310.11" width="3.4" height="7.8" fill="#26a69a"/>
<line x1="98.5" x2="98.5" y1="304.16" y2="335.89" stroke="#ef5350" stroke-width="1"/>
<rect x="96.8" y="310.11" width="3.4" height="20.05" fill="#ef5350"/>
<line x1="102.5" x2="102.5" y1="327.14" y2="346.15" stroke="#ef5350" stroke-width="1"/>
<rect x="100.8" y="330.16" width="3.4" height="15.57" fill="#ef5350"/>
<line x1="107.5" x2="107.5" y1="337.16" y2="345.98" stroke="#26a69a" stroke-width="1"/>
<rect x="105.8" y="343.65" width="3.4" height="2.08" fill="#26a69a"/>
<line x1="111.5" x2="111.5" y1="327.14" y2="354.77" stroke="#26a69a" stroke-width="1"/>
<rect x="109.8" y="327.89" width="3.4" height="15.76" fill="#26a69a"/>
<line x1="116.5" x2="116.5" y1="320.54" y2="347.66" stroke="#ef5350" stroke-width="1"/>
<rect x="114.8" y="327.89" width="3.4" height="18.93" fill="#ef5350"/>
<line x1="120.5" x2="120.5" y1="342.33" y2="358.12" stroke="#ef5350" stroke-width="1"/>
<rect x="118.8" y="346.82" width="3.4" height="5.31" fill="#ef5350"/>
<line x1="125.5" x2="125.5" y1="338.92" y2="355.03" stroke="#26a69a" stroke-width="1"/>
<rect x="123.8" y="347.83" width="3.4" height="4.3" fill="#26a69a"/>
<line x1="129.5" x2="129.5" y1="338.12" y2="348.09" stroke="#26a69a" stroke-width="1"/>
<rect x="127.8" y="346.99" width="3.4" height="1" fill="#26a69a"/>
<line x1="134.5" x2="134.5" y1="342.41" y2="357.53" stroke="#ef5350" stroke-width="1"/>
<rect x="132.8" y="346.99" width="3.4" height="1.7" fill="#ef5350"/>
<line x1="138.5" x2="138.5" y1="344.48" y2="351.26" stroke="#26a69a" stroke-width="1"/>
<rect x="136.8" y="345.31" width="3.4" height="3.38" fill="#26a69a"/>
<line x1="143.5" x2="143.5" y1="334.01" y2="348.69" stroke="#26a69a" stroke-width="1"/>
<rect x="141.8" y="337.16" width="3.4" height="8.15" fill="#26a69a"/>
<line x1="147.5" x2="147.5" y1="330.39" y2="342" stroke="#26a69a" stroke-width="1"/>
<rect x="145.8" y="334.79" width="3.4" height="2.37" fill="#26a69a"/>
<line x1="152.5" x2="152.5" y1="334.01" y2="382.69" stroke="#ef5350" stroke-width="1"/>
<rect x="150.8" y="334.79" width="3.4" height="40.4" fill="#ef5350"/>
<line x1="156.5" x2="156.5" y1="366.79" y2="380.6" stroke="#ef5350" stroke-width="1"/>
<rect x="154.8" y="375.2" width="3.4" height="1" fill="#ef5350"/>
<line x1="161.5" x2="161.5" y1="370.55" y2="383.74" stroke="#26a69a" stroke-width="1"/>
<rect x="159.8" y="374" width="3.4" height="1.7" fill="#26a69a"/>
<line x1="165.5" x2="165.5" y1="364.8" y2="378.54" stroke="#26a69a" stroke-width="1"/>
<rect x="163.8" y="367.37" width="3.4" height="6.63" fill="#26a69a"/>
<line x1="169.5" x2="169.5" y1="364.62" y2="371.04" stroke="#ef5350" stroke-width="1"/>
<rect x="167.8" y="367.37" width="3.4" height="1" fill="#ef5350"/>
<line x1="174.5" x2="174.5" y1="355.65" y2="372.51" stroke="#ef5350" stroke-width="1"/>
<rect x="172.8" y="367.65" width="3.4" height="3.09" fill="#ef5350"/>
<line x1="178.5" x2="178.5" y1="368.61" y2="373.01" stroke="#26a69a" stroke-width="1"/>
<rect x="176.8" y="370.16" width="3.4" height="1" fill="#26a69a"/>
<line x1="183.5" x2="183.5" y1="369" y2="374" stroke="#ef5350" stroke-width="1"/>
<rect x="181.8" y="370.16" width="3.4" height="1.47" fill="#ef5350"/>
<line x1="187.5" x2="187.5" y1="363.87" y2="372.91" stroke="#26a69a" stroke-width="1"/>
<rect x="185.8" y="367.37" width="3.4" height="4.26" fill="#26a69a"/>
<line x1="192.5" x2="192.5" y1="332.07" y2="368.61" stroke="#26a69a" stroke-width="1"/>
<rect x="190.8" y="334.95" width="3.4" height="32.42" fill="#26a69a"/>
<line x1="196.5" x2="196.5" y1="316.43" y2="338.76" stroke="#26a69a" stroke-width="1"/>
<rect x="194.8" y="321.26" width="3.4" height="13.69" fill="#26a69a"/>
<line x1="201.5" x2="201.5" y1="313.52" y2="324.18" stroke="#26a69a" stroke-width="1"/>
<rect x="199.8" y="313.93" width="3.4" height="7.34" fill="#26a69a"/>
<line x1="205.5" x2="205.5" y1="310.45" y2="322.71" stroke="#ef5350" stroke-width="1"/>
<rect x="203.8" y="313.93" width="3.4" height="5.68" fill="#ef5350"/>
<line x1="210.5" x2="210.5" y1="315.94" y2="331.3" stroke="#ef5350" stroke-width="1"/>
<rect x="208.8" y="319.61" width="3.4" height="8.28" fill="#ef5350"/>
<line x1="214.5" x2="214.5" y1="303.83" y2="331.3" stroke="#26a69a" stroke-width="1"/>
<rect x="212.8" y="310.11" width="3.4" height="17.78" fill="#26a69a"/>
<line x1="219.5" x2="219.5" y1="304.81" y2="320.54" stroke="#ef5350" stroke-width="1"/>
<rect x="217.8" y="310.11" width="3.4" height="5.13" fill="#ef5350"/>
<line x1="223.5" x2="223.5" y1="312.83" y2="326.39" stroke="#ef5350" stroke-width="1"/>
<rect x="221.8" y="315.24" width="3.4" height="8.56" fill="#ef5350"/>
<line x1="228.5" x2="228.5" y1="321.99" y2="345.73" stroke="#ef5350" stroke-width="1"/>
<rect x="226.8" y="323.81" width="3.4" height="2.66" fill="#ef5350"/>
<line x1="232.5" x2="232.5" y1="285.16" y2="327.89" stroke="#26a69a" stroke-width="1"/>
<rect x="230.8" y="286.9" width="3.4" height="39.56" fill="#26a69a"/>
<line x1="236.5" x2="236.5" y1="281.72" y2="295.3" stroke="#ef5350" stroke-width="1"/>
<rect x="234.8" y="286.9" width="3.4" height="2.95" fill="#ef5350"/>
<line x1="241.5" x2="241.5" y1="280.03" y2="295.92" stroke="#26a69a" stroke-width="1"/>
<rect x="239.8" y="284.18" width="3.4" height="5.68" fill="#26a69a"/>
<line x1="245.5" x2="245.5" y1="281.16" y2="291.65" stroke="#26a69a" stroke-width="1"/>
<rect x="243.8" y="284" width="3.4" height="1" fill="#26a69a"/>
<line x1="250.5" x2="250.5" y1="270.24" y2="285.45" stroke="#26a69a" stroke-width="1"/>
<rect x="248.8" y="273.98" width="3.4" height="10.03" fill="#26a69a"/>
<line x1="254.5" x2="254.5" y1="272.9" y2="292.86" stroke="#ef5350" stroke-width="1"/>
<rect x="252.8" y="273.98" width="3.4" height="15.28" fill="#ef5350"/>
<line x1="259.5" x2="259.5" y1="275.61" y2="293.16" stroke="#26a69a" stroke-width="1"/>
<rect x="257.8" y="279.86" width="3.4" height="9.4" fill="#26a69a"/>
<line x1="263.5" x2="263.5" y1="276.7" y2="288.67" stroke="#ef5350" stroke-width="1"/>
<rect x="261.8" y="279.86" width="3.4" height="4.54" fill="#ef5350"/>
<line x1="268.5" x2="268.5" y1="283.15" y2="300.3" stroke="#ef5350" stroke-width="1"/>
<rect x="266.8" y="284.41" width="3.4" height="9.06" fill="#ef5350"/>
<line x1="272.5" x2="272.5" y1="288.96" y2="296.85" stroke="#ef5350" stroke-width="1"/>
<rect x="270.8" y="293.47" width="3.4" height="1" fill="#ef5350"/>
<line x1="277.5" x2="277.5" y1="284.23" y2="299.8" stroke="#26a69a" stroke-width="1"/>
<rect x="275.8" y="286.44" width="3.4" height="7.33" fill="#26a69a"/>
<line x1="281.5" x2="281.5" y1="284.29" y2="295.92" stroke="#ef5350" stroke-width="1"/>
<rect x="279.8" y="286.44" width="3.4" height="5.82" fill="#ef5350"/>
<line x1="286.5" x2="286.5" y1="290.45" y2="303.18" stroke="#ef5350" stroke-width="1"/>
<rect x="284.8" y="292.25" width="3.4" height="7.42" fill="#ef5350"/>
<line x1="290.5" x2="290.5" y1="294.08" y2="306.78" stroke="#26a69a" stroke-width="1"/>
<rect x="288.8" y="296.91" width="3.4" height="2.76" fill="#26a69a"/>
<line x1="295.5" x2="295.5" y1="268.14" y2="297.47" stroke="#26a69a" stroke-width="1"/>
<rect x="293.8" y="272.79" width="3.4" height="24.12" fill="#26a69a"/>
<line x1="299.5" x2="299.5" y1="270.24" y2="278.36" stroke="#26a69a" stroke-width="1"/>
<rect x="297.8" y="272.36" width="3.4" height="1" fill="#26a69a"/>
<line x1="303.5" x2="303.5" y1="267.62" y2="277.25" stroke="#ef5350" stroke-width="1"/>
<rect x="301.8" y="272.36" width="3.4" height="1.61" fill="#ef5350"/>
<line x1="308.5" x2="308.5" y1="266.06" y2="275.88" stroke="#26a69a" stroke-width="1"/>
<rect x="306.8" y="273.92" width="3.4" height="1" fill="#26a69a"/>
<line x1="312.5" x2="312.5" y1="273.44" y2="278.08" stroke="#ef5350" stroke-width="1"/>
<rect x="310.8" y="273.92" width="3.4" height="2.45" fill="#ef5350"/>
<line x1="317.5" x2="317.5" y1="275.61" y2="281.72" stroke="#ef5350" stroke-width="1"/>
<rect x="315.8" y="276.37" width="3.4" height="3.16" fill="#ef5350"/>
<line x1="321.5" x2="321.5" y1="276.98" y2="283.43" stroke="#ef5350" stroke-width="1"/>
<rect x="319.8" y="279.53" width="3.4" height="1.4" fill="#ef5350"/>
<line x1="326.5" x2="326.5" y1="274.25" y2="282.86" stroke="#26a69a" stroke-width="1"/>
<rect x="324.8" y="279.47" width="3.4" height="1.46" fill="#26a69a"/>
<line x1="330.5" x2="330.5" y1="277.25" y2="304.42" stroke="#ef5350" stroke-width="1"/>
<rect x="328.8" y="279.47" width="3.4" height="19" fill="#ef5350"/>
<line x1="335.5" x2="335.5" y1="294.08" y2="300.43" stroke="#ef5350" stroke-width="1"/>
<rect x="333.8" y="298.47" width="3.4" height="1" fill="#ef5350"/>
<line x1="339.5" x2="339.5" y1="286.03" y2="303.31" stroke="#ef5350" stroke-width="1"/>
<rect x="337.8" y="299.04" width="3.4" height="1" fill="#ef5350"/>
<line x1="344.5" x2="344.5" y1="298.41" y2="303.12" stroke="#ef5350" stroke-width="1"/>
<rect x="342.8" y="299.99" width="3.4" height="1" fill="#ef5350"/>
<line x1="348.5" x2="348.5" y1="292.86" y2="306.12" stroke="#26a69a" stroke-width="1"/>
<rect x="346.8" y="295.73" width="3.4" height="4.32" fill="#26a69a"/>
<line x1="353.5" x2="353.5" y1="289.85" y2="299.04" stroke="#ef5350" stroke-width="1"/>
<rect x="351.8" y="295.73" width="3.4" height="1.74" fill="#ef5350"/>
<line x1="357.5" x2="357.5" y1="286.9" y2="299.04" stroke="#26a69a" stroke-width="1"/>
<rect x="355.8" y="287.08" width="3.4" height="10.39" fill="#26a69a"/>
<line x1="362.5" x2="362.5" y1="283.43" y2="291.65" stroke="#ef5350" stroke-width="1"/>
<rect x="360.8" y="287.08" width="3.4" height="1" fill="#ef5350"/>
<line x1="366.5" x2="366.5" y1="286.96" y2="295.67" stroke="#ef5350" stroke-width="1"/>
<rect x="364.8" y="287.31" width="3.4" height="4.64" fill="#ef5350"/>
<line x1="370.5" x2="370.5" y1="273.44" y2="293.1" stroke="#26a69a" stroke-width="1"/>
<rect x="368.8" y="275.66" width="3.4" height="16.29" fill="#26a69a"/>
<line x1="375.5" x2="375.5" y1="249.43" y2="276.15" stroke="#26a69a" stroke-width="1"/>
<rect x="373.8" y="252.58" width="3.4" height="23.08" fill="#26a69a"/>
<line x1="379.5" x2="379.5" y1="245.8" y2="255.59" stroke="#26a69a" stroke-width="1"/>
<rect x="377.8" y="250.36" width="3.4" height="2.21" fill="#26a69a"/>
<line x1="384.5" x2="384.5" y1="236.98" y2="252.72" stroke="#26a69a" stroke-width="1"/>
<rect x="382.8" y="241.04" width="3.4" height="9.32" fill="#26a69a"/>
<line x1="388.5" x2="388.5" y1="237.11" y2="251.3" stroke="#26a69a" stroke-width="1"/>
<rect x="386.8" y="239.59" width="3.4" height="1.45" fill="#26a69a"/>
<line x1="393.5" x2="393.5" y1="234.97" y2="247.58" stroke="#26a69a" stroke-width="1"/>
<rect x="391.8" y="239.28" width="3.4" height="1" fill="#26a69a"/>
<line x1="397.5" x2="397.5" y1="228.5" y2="241.71" stroke="#26a69a" stroke-width="1"/>
<rect x="395.8" y="230.72" width="3.4" height="8.56" fill="#26a69a"/>
<line x1="402.5" x2="402.5" y1="210.31" y2="231.81" stroke="#26a69a" stroke-width="1"/>
<rect x="400.8" y="213.67" width="3.4" height="17.05" fill="#26a69a"/>
<line x1="406.5" x2="406.5" y1="212.89" y2="227.68" stroke="#ef5350" stroke-width="1"/>
<rect x="404.8" y="213.67" width="3.4" height="9.35" fill="#ef5350"/>
<line x1="411.5" x2="411.5" y1="211.41" y2="226.26" stroke="#26a69a" stroke-width="1"/>
<rect x="409.8" y="216.66" width="3.4" height="6.37" fill="#26a69a"/>
<line x1="415.5" x2="415.5" y1="213.64" y2="223.26" stroke="#ef5350" stroke-width="1"/>
<rect x="413.8" y="216.66" width="3.4" height="2.77" fill="#ef5350"/>
<line x1="420.5" x2="420.5" y1="205.97" y2="225.46" stroke="#26a69a" stroke-width="1"/>
<rect x="418.8" y="213.15" width="3.4" height="6.27" fill="#26a69a"/>
<line x1="424.5" x2="424.5" y1="194.93" y2="222.47" stroke="#ef5350" stroke-width="1"/>
<rect x="422.8" y="213.15" width="3.4" height="8.41" fill="#ef5350"/>
<line x1="429.5" x2="429.5" y1="215.9" y2="227.36" stroke="#ef5350" stroke-width="1"/>
<rect x="427.8" y="221.56" width="3.4" height="1" fill="#ef5350"/>
<line x1="433.5" x2="433.5" y1="217.23" y2="234.54" stroke="#26a69a" stroke-width="1"/>
<rect x="431.8" y="220.39" width="3.4" height="1.76" fill="#26a69a"/>
<line x1="437.5" x2="437.5" y1="213.34" y2="221.29" stroke="#26a69a" stroke-width="1"/>
<rect x="435.8" y="216.66" width="3.4" height="3.74" fill="#26a69a"/>
<line x1="442.5" x2="442.5" y1="196.78" y2="218.34" stroke="#26a69a" stroke-width="1"/>
<rect x="440.8" y="197.62" width="3.4" height="19.03" fill="#26a69a"/>
<line x1="446.5" x2="446.5" y1="183.04" y2="197.96" stroke="#26a69a" stroke-width="1"/>
<rect x="444.8" y="185.1" width="3.4" height="12.53" fill="#26a69a"/>
<line x1="451.5" x2="451.5" y1="182.48" y2="189.94" stroke="#ef5350" stroke-width="1"/>
<rect x="449.8" y="185.1" width="3.4" height="1.29" fill="#ef5350"/>
<line x1="455.5" x2="455.5" y1="151.53" y2="189.04" stroke="#26a69a" stroke-width="1"/>
<rect x="453.8" y="153.83" width="3.4" height="32.56" fill="#26a69a"/>
<line x1="460.5" x2="460.5" y1="136.86" y2="164.86" stroke="#26a69a" stroke-width="1"/>
<rect x="458.8" y="139.34" width="3.4" height="14.49" fill="#26a69a"/>
<line x1="464.5" x2="464.5" y1="128.2" y2="150.26" stroke="#ef5350" stroke-width="1"/>
<rect x="462.8" y="139.34" width="3.4" height="1.38" fill="#ef5350"/>
<line x1="469.5" x2="469.5" y1="139.45" y2="160.04" stroke="#ef5350" stroke-width="1"/>
<rect x="467.8" y="140.72" width="3.4" height="3.8" fill="#ef5350"/>
<line x1="473.5" x2="473.5" y1="132.77" y2="145.51" stroke="#26a69a" stroke-width="1"/>
<rect x="471.8" y="133.89" width="3.4" height="10.63" fill="#26a69a"/>
<line x1="478.5" x2="478.5" y1="133.89" y2="150.26" stroke="#ef5350" stroke-width="1"/>
<rect x="476.8" y="133.89" width="3.4" height="4.47" fill="#ef5350"/>
<line x1="482.5" x2="482.5" y1="130.44" y2="160.31" stroke="#ef5350" stroke-width="1"/>
<rect x="480.8" y="138.36" width="3.4" height="8.98" fill="#ef5350"/>
<line x1="487.5" x2="487.5" y1="144.52" y2="163.2" stroke="#ef5350" stroke-width="1"/>
<rect x="485.8" y="147.34" width="3.4" height="1.81" fill="#ef5350"/>
<line x1="491.5" x2="491.5" y1="143.55" y2="155.68" stroke="#ef5350" stroke-width="1"/>
<rect x="489.8" y="149.15" width="3.4" height="4.65" fill="#ef5350"/>
<line x1="495.5" x2="495.5" y1="149.68" y2="171.8" stroke="#26a69a" stroke-width="1"/>
<rect x="493.8" y="151.82" width="3.4" height="1.99" fill="#26a69a"/>
<line x1="500.5" x2="500.5" y1="147.74" y2="161.56" stroke="#ef5350" stroke-width="1"/>
<rect x="498.8" y="151.82" width="3.4" height="6.3" fill="#ef5350"/>
<line x1="504.5" x2="504.5" y1="142.33" y2="160.07" stroke="#26a69a" stroke-width="1"/>
<rect x="502.8" y="145.83" width="3.4" height="12.29" fill="#26a69a"/>
<line x1="509.5" x2="509.5" y1="132.29" y2="146.37" stroke="#26a69a" stroke-width="1"/>
<rect x="507.8" y="140.41" width="3.4" height="5.42" fill="#26a69a"/>
<line x1="513.5" x2="513.5" y1="135.46" y2="144.89" stroke="#ef5350" stroke-width="1"/>
<rect x="511.8" y="140.41" width="3.4" height="1.78" fill="#ef5350"/>
<line x1="518.5" x2="518.5" y1="132.36" y2="142.82" stroke="#26a69a" stroke-width="1"/>
<rect x="516.8" y="137.68" width="3.4" height="4.5" fill="#26a69a"/>
<line x1="522.5" x2="522.5" y1="136.39" y2="148.74" stroke="#ef5350" stroke-width="1"/>
<rect x="520.8" y="137.68" width="3.4" height="8.27" fill="#ef5350"/>
<line x1="527.5" x2="527.5" y1="144.28" y2="153.59" stroke="#ef5350" stroke-width="1"/>
<rect x="525.8" y="145.95" width="3.4" height="7.64" fill="#ef5350"/>
<line x1="531.5" x2="531.5" y1="151.28" y2="166.53" stroke="#ef5350" stroke-width="1"/>
<rect x="529.8" y="153.59" width="3.4" height="1.12" fill="#ef5350"/>
<line x1="536.5" x2="536.5" y1="152.05" y2="180.88" stroke="#ef5350" stroke-width="1"/>
<rect x="534.8" y="154.71" width="3.4" height="19.13" fill="#ef5350"/>
<line x1="540.5" x2="540.5" y1="158.06" y2="178.57" stroke="#26a69a" stroke-width="1"/>
<rect x="538.8" y="159.93" width="3.4" height="13.91" fill="#26a69a"/>
<line x1="545.5" x2="545.5" y1="140.65" y2="162.24" stroke="#26a69a" stroke-width="1"/>
<rect x="543.8" y="141.2" width="3.4" height="18.74" fill="#26a69a"/>
<line x1="549.5" x2="549.5" y1="138.27" y2="152.95" stroke="#26a69a" stroke-width="1"/>
<rect x="547.8" y="141.01" width="3.4" height="1" fill="#26a69a"/>
<line x1="554.5" x2="554.5" y1="136.67" y2="170.22" stroke="#ef5350" stroke-width="1"/>
<rect x="552.8" y="141.01" width="3.4" height="26.2" fill="#ef5350"/>
<line x1="558.5" x2="558.5" y1="154.76" y2="195.27" stroke="#26a69a" stroke-width="1"/>
<rect x="556.8" y="165.66" width="3.4" height="1.54" fill="#26a69a"/>
<line x1="562.5" x2="562.5" y1="157.26" y2="173.11" stroke="#ef5350" stroke-width="1"/>
<rect x="560.8" y="165.66" width="3.4" height="1" fill="#ef5350"/>
<line x1="567.5" x2="567.5" y1="149.12" y2="168.22" stroke="#26a69a" stroke-width="1"/>
<rect x="565.8" y="150.97" width="3.4" height="15.28" fill="#26a69a"/>
<line x1="571.5" x2="571.5" y1="150.26" y2="169.93" stroke="#ef5350" stroke-width="1"/>
<rect x="569.8" y="150.97" width="3.4" height="18.67" fill="#ef5350"/>
<line x1="576.5" x2="576.5" y1="162.65" y2="183.81" stroke="#ef5350" stroke-width="1"/>
<rect x="574.8" y="169.64" width="3.4" height="7.19" fill="#ef5350"/>
<line x1="580.5" x2="580.5" y1="160.28" y2="177.61" stroke="#26a69a" stroke-width="1"/>
<rect x="578.8" y="162.13" width="3.4" height="14.7" fill="#26a69a"/>
<line x1="585.5" x2="585.5" y1="151.2" y2="169.07" stroke="#26a69a" stroke-width="1"/>
<rect x="583.8" y="153.21" width="3.4" height="8.92" fill="#26a69a"/>
<line x1="589.5" x2="589.5" y1="145.26" y2="154.9" stroke="#26a69a" stroke-width="1"/>
<rect x="587.8" y="147.49" width="3.4" height="5.72" fill="#26a69a"/>
<line x1="594.5" x2="594.5" y1="147.49" y2="162.65" stroke="#ef5350" stroke-width="1"/>
<rect x="592.8" y="147.49" width="3.4" height="7.09" fill="#ef5350"/>
<line x1="598.5" x2="598.5" y1="150.26" y2="165.13" stroke="#26a69a" stroke-width="1"/>
<rect x="596.8" y="154.5" width="3.4" height="1" fill="#26a69a"/>
<line x1="603.5" x2="603.5" y1="138.27" y2="156.73" stroke="#26a69a" stroke-width="1"/>
<rect x="601.8" y="139.15" width="3.4" height="15.36" fill="#26a69a"/>
<line x1="607.5" x2="607.5" y1="138.03" y2="149" stroke="#ef5350" stroke-width="1"/>
<rect x="605.8" y="139.15" width="3.4" height="2.58" fill="#ef5350"/>
<line x1="612.5" x2="612.5" y1="128.6" y2="142.82" stroke="#26a69a" stroke-width="1"/>
<rect x="610.8" y="139.84" width="3.4" height="1.89" fill="#26a69a"/>
<line x1="616.5" x2="616.5" y1="111.95" y2="144.52" stroke="#26a69a" stroke-width="1"/>
<rect x="614.8" y="114.24" width="3.4" height="25.6" fill="#26a69a"/>
<line x1="621.5" x2="621.5" y1="89.5" y2="114.59" stroke="#26a69a" stroke-width="1"/>
<rect x="619.8" y="96" width="3.4" height="18.24" fill="#26a69a"/>
<line x1="625.5" x2="625.5" y1="79.11" y2="96.8" stroke="#26a69a" stroke-width="1"/>
<rect x="623.8" y="81.93" width="3.4" height="14.07" fill="#26a69a"/>
<line x1="629.5" x2="629.5" y1="80.43" y2="94.26" stroke="#ef5350" stroke-width="1"/>
<rect x="627.8" y="81.93" width="3.4" height="1.18" fill="#ef5350"/>
<line x1="634.5" x2="634.5" y1="72.03" y2="94.8" stroke="#26a69a" stroke-width="1"/>
<rect x="632.8" y="76.66" width="3.4" height="6.44" fill="#26a69a"/>
<line x1="638.5" x2="638.5" y1="70.08" y2="88.33" stroke="#26a69a" stroke-width="1"/>
<rect x="636.8" y="71.31" width="3.4" height="5.35" fill="#26a69a"/>
<line x1="643.5" x2="643.5" y1="65.32" y2="91.75" stroke="#ef5350" stroke-width="1"/>
<rect x="641.8" y="71.31" width="3.4" height="15.22" fill="#ef5350"/>
<line x1="647.5" x2="647.5" y1="78.54" y2="91.22" stroke="#ef5350" stroke-width="1"/>
<rect x="645.8" y="86.53" width="3.4" height="2.58" fill="#ef5350"/>
<line x1="652.5" x2="652.5" y1="80.13" y2="92.95" stroke="#26a69a" stroke-width="1"/>
<rect x="650.8" y="81.25" width="3.4" height="7.86" fill="#26a69a"/>
<line x1="656.5" x2="656.5" y1="74.09" y2="91.22" stroke="#ef5350" stroke-width="1"/>
<rect x="654.8" y="81.25" width="3.4" height="6.47" fill="#ef5350"/>
<line x1="661.5" x2="661.5" y1="68.91" y2="97.08" stroke="#26a69a" stroke-width="1"/>
<rect x="659.8" y="76.34" width="3.4" height="11.38" fill="#26a69a"/>
<line x1="665.5" x2="665.5" y1="63.44" y2="79.28" stroke="#26a69a" stroke-width="1"/>
<rect x="663.8" y="74.22" width="3.4" height="2.12" fill="#26a69a"/>
<line x1="670.5" x2="670.5" y1="68.3" y2="82.27" stroke="#ef5350" stroke-width="1"/>
<rect x="668.8" y="74.22" width="3.4" height="8.05" fill="#ef5350"/>
<line x1="674.5" x2="674.5" y1="74.41" y2="93.54" stroke="#ef5350" stroke-width="1"/>
<rect x="672.8" y="82.27" width="3.4" height="2.09" fill="#ef5350"/>
<line x1="679.5" x2="679.5" y1="80.38" y2="88.43" stroke="#ef5350" stroke-width="1"/>
<rect x="677.8" y="84.36" width="3.4" height="1" fill="#ef5350"/>
<line x1="683.5" x2="683.5" y1="79.28" y2="89.64" stroke="#26a69a" stroke-width="1"/>
<rect x="681.8" y="84.7" width="3.4" height="1" fill="#26a69a"/>
<line x1="688.5" x2="688.5" y1="84.29" y2="118.62" stroke="#ef5350" stroke-width="1"/>
<rect x="686.8" y="84.7" width="3.4" height="3.42" fill="#ef5350"/>
<line x1="692.5" x2="692.5" y1="86.85" y2="114.99" stroke="#ef5350" stroke-width="1"/>
<rect x="690.8" y="88.12" width="3.4" height="25.39" fill="#ef5350"/>
<line x1="696.5" x2="696.5" y1="104.49" y2="122.11" stroke="#26a69a" stroke-width="1"/>
<rect x="694.8" y="109.76" width="3.4" height="3.75" fill="#26a69a"/>
<line x1="701.5" x2="701.5" y1="100.41" y2="112.76" stroke="#26a69a" stroke-width="1"/>
<rect x="699.8" y="103" width="3.4" height="6.76" fill="#26a69a"/>
<line x1="705.5" x2="705.5" y1="97.98" y2="111.75" stroke="#ef5350" stroke-width="1"/>
<rect x="703.8" y="103" width="3.4" height="7.17" fill="#ef5350"/>
<line x1="710.5" x2="710.5" y1="98.46" y2="120.93" stroke="#ef5350" stroke-width="1"/>
<rect x="708.8" y="110.17" width="3.4" height="8.07" fill="#ef5350"/>
<line x1="714.5" x2="714.5" y1="102.96" y2="126.66" stroke="#26a69a" stroke-width="1"/>
<rect x="712.8" y="107.47" width="3.4" height="10.77" fill="#26a69a"/>
<line x1="719.5" x2="719.5" y1="102.2" y2="108.97" stroke="#26a69a" stroke-width="1"/>
<rect x="717.8" y="104.74" width="3.4" height="2.73" fill="#26a69a"/>
<line x1="723.5" x2="723.5" y1="85.48" y2="105.07" stroke="#26a69a" stroke-width="1"/>
<rect x="721.8" y="89.02" width="3.4" height="15.72" fill="#26a69a"/>
<line x1="728.5" x2="728.5" y1="81.93" y2="90.69" stroke="#26a69a" stroke-width="1"/>
<rect x="726.8" y="88.07" width="3.4" height="1" fill="#26a69a"/>
<line x1="732.5" x2="732.5" y1="71.56" y2="89.72" stroke="#26a69a" stroke-width="1"/>
<rect x="730.8" y="71.88" width="3.4" height="16.19" fill="#26a69a"/>
<line x1="737.5" x2="737.5" y1="68.22" y2="77.31" stroke="#26a69a" stroke-width="1"/>
<rect x="735.8" y="68.22" width="3.4" height="3.66" fill="#26a69a"/>
<line x1="741.5" x2="741.5" y1="59.93" y2="75.21" stroke="#26a69a" stroke-width="1"/>
<rect x="739.8" y="64.34" width="3.4" height="3.88" fill="#26a69a"/>
<line x1="746.5" x2="746.5" y1="61.81" y2="73.46" stroke="#ef5350" stroke-width="1"/>
<rect x="744.8" y="64.34" width="3.4" height="5.11" fill="#ef5350"/>
<line x1="750.5" x2="750.5" y1="67.68" y2="77.85" stroke="#26a69a" stroke-width="1"/>
<rect x="748.8" y="69.38" width="3.4" height="1" fill="#26a69a"/>
<line x1="755.5" x2="755.5" y1="62.25" y2="74.09" stroke="#ef5350" stroke-width="1"/>
<rect x="753.8" y="69.38" width="3.4" height="1" fill="#ef5350"/>
<line x1="759.5" x2="759.5" y1="64.49" y2="81.43" stroke="#ef5350" stroke-width="1"/>
<rect x="757.8" y="69.53" width="3.4" height="7.36" fill="#ef5350"/>
<line x1="763.5" x2="763.5" y1="65.1" y2="77.96" stroke="#26a69a" stroke-width="1"/>
<rect x="761.8" y="65.28" width="3.4" height="11.61" fill="#26a69a"/>
<line x1="768.5" x2="768.5" y1="62.11" y2="70.31" stroke="#26a69a" stroke-width="1"/>
<rect x="766.8" y="64.04" width="3.4" height="1.23" fill="#26a69a"/>
<line x1="772.5" x2="772.5" y1="49.28" y2="66.61" stroke="#26a69a" stroke-width="1"/>
<rect x="770.8" y="49.97" width="3.4" height="14.07" fill="#26a69a"/>
<line x1="777.5" x2="777.5" y1="44.29" y2="54.58" stroke="#ef5350" stroke-width="1"/>
<rect x="775.8" y="49.97" width="3.4" height="2.43" fill="#ef5350"/>
<line x1="781.5" x2="781.5" y1="48.26" y2="56" stroke="#26a69a" stroke-width="1"/>
<rect x="779.8" y="49.35" width="3.4" height="3.04" fill="#26a69a"/>
<line x1="786.5" x2="786.5" y1="48.87" y2="60.04" stroke="#ef5350" stroke-width="1"/>
<rect x="784.8" y="49.35" width="3.4" height="7.36" fill="#ef5350"/>
<line x1="790.5" x2="790.5" y1="49.56" y2="58.95" stroke="#26a69a" stroke-width="1"/>
<rect x="788.8" y="49.56" width="3.4" height="7.15" fill="#26a69a"/>
<line x1="795.5" x2="795.5" y1="42.64" y2="53.03" stroke="#ef5350" stroke-width="1"/>
<rect x="793.8" y="49.56" width="3.4" height="2.63" fill="#ef5350"/>
<line x1="799.5" x2="799.5" y1="51.91" y2="61.81" stroke="#ef5350" stroke-width="1"/>
<rect x="797.8" y="52.19" width="3.4" height="5.53" fill="#ef5350"/>
<line x1="804.5" x2="804.5" y1="57.57" y2="66.99" stroke="#ef5350" stroke-width="1"/>
<rect x="802.8" y="57.72" width="3.4" height="7.76" fill="#ef5350"/>
<line x1="808.5" x2="808.5" y1="57.86" y2="66.99" stroke="#26a69a" stroke-width="1"/>
<rect x="806.8" y="61.15" width="3.4" height="4.33" fill="#26a69a"/>
<line x1="813.5" x2="813.5" y1="53.03" y2="61.96" stroke="#26a69a" stroke-width="1"/>
<rect x="811.8" y="55.14" width="3.4" height="6" fill="#26a69a"/>
<line x1="817.5" x2="817.5" y1="51.49" y2="56.43" stroke="#ef5350" stroke-width="1"/>
<rect x="815.8" y="55.14" width="3.4" height="1" fill="#ef5350"/>
<line x1="822.5" x2="822.5" y1="55" y2="64.95" stroke="#ef5350" stroke-width="1"/>
<rect x="820.8" y="55.21" width="3.4" height="4.46" fill="#ef5350"/>
<line x1="826.5" x2="826.5" y1="41" y2="60.48" stroke="#26a69a" stroke-width="1"/>
<rect x="824.8" y="43.89" width="3.4" height="15.79" fill="#26a69a"/>
<line x1="830.5" x2="830.5" y1="40.35" y2="75.21" stroke="#ef5350" stroke-width="1"/>
<rect x="828.8" y="43.89" width="3.4" height="11.53" fill="#ef5350"/>
<line x1="835.5" x2="835.5" y1="54.29" y2="72.82" stroke="#ef5350" stroke-width="1"/>
<rect x="833.8" y="55.43" width="3.4" height="9.52" fill="#ef5350"/>
<line x1="839.5" x2="839.5" y1="56.28" y2="67.99" stroke="#26a69a" stroke-width="1"/>
<rect x="837.8" y="56.28" width="3.4" height="8.66" fill="#26a69a"/>
<line x1="844.5" x2="844.5" y1="53.59" y2="68.45" stroke="#ef5350" stroke-width="1"/>
<rect x="842.8" y="56.28" width="3.4" height="5.75" fill="#ef5350"/>
<line x1="848.5" x2="848.5" y1="61.74" y2="80.27" stroke="#ef5350" stroke-width="1"/>
<rect x="846.8" y="62.03" width="3.4" height="8.9" fill="#ef5350"/>
<line x1="853.5" x2="853.5" y1="66.61" y2="90.34" stroke="#ef5350" stroke-width="1"/>
<rect x="851.8" y="70.93" width="3.4" height="17.2" fill="#ef5350"/>
<line x1="857.5" x2="857.5" y1="85.07" y2="98.26" stroke="#ef5350" stroke-width="1"/>
<rect x="855.8" y="88.13" width="3.4" height="5.4" fill="#ef5350"/>
<polygon points="724.1,66 849.2,25.6 849.2,53.5 724.1,93.6" fill="rgba(0,188,212,0.06)"/>
<line x1="724.1" y1="66" x2="849.2" y2="25.6" stroke="#131722" stroke-width="1.05" opacity="0.85"/>
<line x1="724.1" y1="93.6" x2="849.2" y2="53.5" stroke="#131722" stroke-width="1.05" opacity="0.85"/>
<line x1="724.1" y1="79.8" x2="849.2" y2="39.6" stroke="#2962ff" stroke-width="1" stroke-dasharray="3,3"/>
<line x1="451.1" y1="126.7" x2="630.4" y2="144.3" stroke="#131722" stroke-width="1.5"/>
<line x1="457.6" y1="165.2" x2="621.6" y2="191.2" stroke="#131722" stroke-width="1.5"/>
<line x1="710" x2="867" y1="40.5" y2="40.5" stroke="#787b86" stroke-width="1" opacity="0.8"/>
<line x1="710" x2="867" y1="57.5" y2="57.5" stroke="#f23645" stroke-width="1" opacity="0.8"/>
<line x1="710" x2="867" y1="68.5" y2="68.5" stroke="#ff9800" stroke-width="1" opacity="0.8"/>
<line x1="710" x2="867" y1="78" y2="78" stroke="#4caf50" stroke-width="1" opacity="0.8"/>
<line x1="710" x2="867" y1="88.5" y2="88.5" stroke="#089981" stroke-width="1" opacity="0.8"/>
<line x1="710" x2="867" y1="104.5" y2="104.5" stroke="#00bcd4" stroke-width="1" opacity="0.8"/>
<line x1="710" x2="867" y1="126.5" y2="126.5" stroke="#787b86" stroke-width="1" opacity="0.8"/>
<line x1="710" x2="867" y1="161" y2="161" stroke="#ff9800" stroke-width="1" opacity="0.8"/>
<line x1="710" x2="867" y1="182" y2="182" stroke="#f23645" stroke-width="1" opacity="0.8"/>
<line x1="710" x2="867" y1="218.5" y2="218.5" stroke="#2962ff" stroke-width="1" opacity="0.8"/>
<line x1="6.5" x2="966" y1="93.5" y2="93.5" stroke="#ef5350" stroke-width="1" stroke-dasharray="2,1" opacity="0.42"/>
</g>
<line x1="966.5" x2="966.5" y1="19" y2="430" stroke="#9a9ca3" stroke-width="1"/>
<line x1="6" x2="1017" y1="411.5" y2="411.5" stroke="#9a9ca3" stroke-width="1"/>
<rect x="969.5" y="21.5" width="44.8" height="17.8" rx="3" fill="#fff" stroke="#eceef2"/>
<path d="M931,88.2 H966.5 V98.5 H931 Q929.4,98.5 929.4,97 V89.7 Q929.4,88.2 931,88.2 Z" fill="#ef5350"/>
<path d="M966.5,88.2 H1007.7 Q1009.7,88.2 1009.7,90.2 V105.7 Q1009.7,107.7 1007.7,107.7 H966.5 Z" fill="#ef5350"/>
<path d="M8.2,446.05 H16.56 V456.65 H12.37 V449.77 H8.2 Z" fill="#131722"/>
<circle cx="20.05" cy="448.14" r="1.9" fill="#131722"/>
<path d="M24.47,446.05 H28.88 L24.7,456.65 H20.28 Z" fill="#131722"/>
<text x="6.92" y="13.7" font-family="'Liberation Sans', sans-serif" font-size="8.43" fill="#131722" stroke="#131722" stroke-width="0.18" textLength="277.19" lengthAdjust="spacingAndGlyphs">Jake_Simmons created with TradingView.com, Nov 20, 2025 09:03 UTC-5</text>
<text x="12.01" y="32.6" font-family="'Liberation Sans', sans-serif" font-size="8.29" fill="#565a66" stroke="#565a66" stroke-width="0.18" textLength="128.3" lengthAdjust="spacingAndGlyphs">Bitcoin / TetherUS · 1W · Binance</text>
<text x="145.36" y="32.6" font-family="'Liberation Sans', sans-serif" font-size="8.29" fill="#565a66" stroke="#565a66" stroke-width="0.18" textLength="6.54" lengthAdjust="spacingAndGlyphs">O</text>
<text x="151.87" y="32.6" font-family="'Liberation Sans', sans-serif" font-size="8.29" fill="#ef5350" stroke="#ef5350" stroke-width="0.18" textLength="37.24" lengthAdjust="spacingAndGlyphs">94,261.45</text>
<text x="194.04" y="32.6" font-family="'Liberation Sans', sans-serif" font-size="8.29" fill="#565a66" stroke="#565a66" stroke-width="0.18">H</text>
<text x="199.66" y="32.6" font-family="'Liberation Sans', sans-serif" font-size="8.29" fill="#ef5350" stroke="#ef5350" stroke-width="0.18" textLength="37.85" lengthAdjust="spacingAndGlyphs">96,043.00</text>
<text x="241.94" y="32.6" font-family="'Liberation Sans', sans-serif" font-size="8.29" fill="#565a66" stroke="#565a66" stroke-width="0.18">L</text>
<text x="246.36" y="32.6" font-family="'Liberation Sans', sans-serif" font-size="8.29" fill="#ef5350" stroke="#ef5350" stroke-width="0.18" textLength="37.95" lengthAdjust="spacingAndGlyphs">88,608.00</text>
<text x="289.09" y="32.6" font-family="'Liberation Sans', sans-serif" font-size="8.29" fill="#565a66" stroke="#565a66" stroke-width="0.18">C</text>
<text x="295.07" y="32.6" font-family="'Liberation Sans', sans-serif" font-size="8.29" fill="#ef5350" stroke="#ef5350" stroke-width="0.18" textLength="36.2" lengthAdjust="spacingAndGlyphs">91,205.61</text>
<text x="336.97" y="32.6" font-family="'Liberation Sans', sans-serif" font-size="8.29" fill="#ef5350" stroke="#ef5350" stroke-width="0.18" textLength="72.36" lengthAdjust="spacingAndGlyphs">−3,055.83 (−3.24%)</text>
<text x="12.9" y="44.5" font-family="'Liberation Sans', sans-serif" font-size="8.43" fill="#565a66" stroke="#565a66" stroke-width="0.18" textLength="33.96" lengthAdjust="spacingAndGlyphs">Vol · BTC</text>
<text x="52.14" y="44.5" font-family="'Liberation Sans', sans-serif" font-size="8.43" fill="#ef5350" stroke="#ef5350" stroke-width="0.18" textLength="31.91" lengthAdjust="spacingAndGlyphs">124.49 K</text>
<text x="12.21" y="56.5" font-family="'Liberation Sans', sans-serif" font-size="8.43" fill="#565a66" stroke="#565a66" stroke-width="0.18" textLength="76.71" lengthAdjust="spacingAndGlyphs">EMA 20/50/100/200</text>
<text x="93.4" y="56.5" font-family="'Liberation Sans', sans-serif" font-size="8.43" fill="#ff1010" stroke="#ff1010" stroke-width="0.18" textLength="42.71" lengthAdjust="spacingAndGlyphs">107,499.23</text>
<text x="140.91" y="56.5" font-family="'Liberation Sans', sans-serif" font-size="8.43" fill="#ff9800" stroke="#ff9800" stroke-width="0.18" textLength="41.97" lengthAdjust="spacingAndGlyphs">100,383.52</text>
<text x="187.97" y="56.5" font-family="'Liberation Sans', sans-serif" font-size="8.43" fill="#00f0f0" stroke="#00f0f0" stroke-width="0.18" textLength="36.81" lengthAdjust="spacingAndGlyphs">85,569.21</text>
<text x="230.37" y="56.5" font-family="'Liberation Sans', sans-serif" font-size="8.43" fill="#1a1aff" stroke="#1a1aff" stroke-width="0.18" textLength="37.83" lengthAdjust="spacingAndGlyphs">65,930.30</text>
<text x="972.45" y="51.05" font-family="'Liberation Sans', sans-serif" font-size="7.86" fill="#363a45" stroke="#363a45" stroke-width="0.12">120,000.00</text>
<text x="972.45" y="80.91" font-family="'Liberation Sans', sans-serif" font-size="7.86" fill="#363a45" stroke="#363a45" stroke-width="0.12">100,000.00</text>
<text x="972.61" y="132.44" font-family="'Liberation Sans', sans-serif" font-size="7.86" fill="#363a45" stroke="#363a45" stroke-width="0.12">73,000.00</text>
<text x="972.61" y="161.85" font-family="'Liberation Sans', sans-serif" font-size="7.86" fill="#363a45" stroke="#363a45" stroke-width="0.12">61,000.00</text>
<text x="972.69" y="183.33" font-family="'Liberation Sans', sans-serif" font-size="7.86" fill="#363a45" stroke="#363a45" stroke-width="0.12">53,500.00</text>
<text x="972.84" y="208.06" font-family="'Liberation Sans', sans-serif" font-size="7.86" fill="#363a45" stroke="#363a45" stroke-width="0.12">46,000.00</text>
<text x="972.84" y="230.95" font-family="'Liberation Sans', sans-serif" font-size="7.86" fill="#363a45" stroke="#363a45" stroke-width="0.12">40,000.00</text>
<text x="972.76" y="257.56" font-family="'Liberation Sans', sans-serif" font-size="7.86" fill="#363a45" stroke="#363a45" stroke-width="0.12">34,000.00</text>
<text x="972.76" y="278.06" font-family="'Liberation Sans', sans-serif" font-size="7.86" fill="#363a45" stroke="#363a45" stroke-width="0.12">30,000.00</text>
<text x="972.61" y="301.49" font-family="'Liberation Sans', sans-serif" font-size="7.86" fill="#363a45" stroke="#363a45" stroke-width="0.12">26,000.00</text>
<text x="972.61" y="321.56" font-family="'Liberation Sans', sans-serif" font-size="7.86" fill="#363a45" stroke="#363a45" stroke-width="0.12">23,000.00</text>
<text x="972.61" y="344.45" font-family="'Liberation Sans', sans-serif" font-size="7.86" fill="#363a45" stroke="#363a45" stroke-width="0.12">20,000.00</text>
<text x="972.45" y="365.38" font-family="'Liberation Sans', sans-serif" font-size="7.86" fill="#363a45" stroke="#363a45" stroke-width="0.12">17,600.00</text>
<text x="972.45" y="387.78" font-family="'Liberation Sans', sans-serif" font-size="7.86" fill="#363a45" stroke="#363a45" stroke-width="0.12">15,350.00</text>
<text x="972.45" y="408.21" font-family="'Liberation Sans', sans-serif" font-size="7.86" fill="#363a45" stroke="#363a45" stroke-width="0.12">13,550.00</text>
<text x="975.08" y="33.3" font-family="'Liberation Sans', sans-serif" font-size="8.71" fill="#1e222d" stroke="#1e222d" stroke-width="0.4" textLength="20.28" lengthAdjust="spacingAndGlyphs">USDT</text>
<text x="871.96" y="43.6" font-family="'DejaVu Sans', sans-serif" font-size="7.41" fill="#787b86" stroke="#787b86" stroke-width="0.18">0 (126,199.00)</text>
<text x="871.96" y="60.7" font-family="'DejaVu Sans', sans-serif" font-size="7.41" fill="#f23645" stroke="#f23645" stroke-width="0.18">0.236 (114,017.47)</text>
<text x="871.96" y="71.4" font-family="'DejaVu Sans', sans-serif" font-size="7.41" fill="#ff9800" stroke="#ff9800" stroke-width="0.18">0.382 (106,481.45)</text>
<text x="871.96" y="80.9" font-family="'DejaVu Sans', sans-serif" font-size="7.41" fill="#4caf50" stroke="#4caf50" stroke-width="0.18">0.5 (100,390.68)</text>
<text x="871.96" y="91.5" font-family="'DejaVu Sans', sans-serif" font-size="7.41" fill="#089981" stroke="#089981" stroke-width="0.18">0.618 (94,299.93)</text>
<text x="871.96" y="107.5" font-family="'DejaVu Sans', sans-serif" font-size="7.41" fill="#00bcd4" stroke="#00bcd4" stroke-width="0.18">0.786 (85,628.33)</text>
<text x="871.66" y="129.4" font-family="'DejaVu Sans', sans-serif" font-size="7.41" fill="#787b86" stroke="#787b86" stroke-width="0.18">1 (74,582.37)</text>
<text x="871.66" y="164" font-family="'DejaVu Sans', sans-serif" font-size="7.41" fill="#ff9800" stroke="#ff9800" stroke-width="0.18">1.272 (60,542.64)</text>
<text x="871.66" y="185.4" font-family="'DejaVu Sans', sans-serif" font-size="7.41" fill="#f23645" stroke="#f23645" stroke-width="0.18">1.414 (53,213.08)</text>
<text x="871.66" y="221.5" font-family="'DejaVu Sans', sans-serif" font-size="7.41" fill="#2962ff" stroke="#2962ff" stroke-width="0.18">1.618 (42,683.29)</text>
<text x="931.57" y="96.1" font-family="'Liberation Sans', sans-serif" font-size="7.29" fill="#ffffff" stroke="#ffffff" stroke-width="0.18" textLength="31.27" lengthAdjust="spacingAndGlyphs">BTCUSDT</text>
<text x="972.5" y="96.1" font-family="'Liberation Sans', sans-serif" font-size="7.43" fill="#ffffff" stroke="#ffffff" stroke-width="0.18" textLength="33.55" lengthAdjust="spacingAndGlyphs">91,205.61</text>
<text x="972.58" y="104.9" font-family="'Liberation Sans', sans-serif" font-size="7.14" fill="#ffffff" stroke="#ffffff" stroke-width="0.18" textLength="22.53" lengthAdjust="spacingAndGlyphs">3d 10h</text>
<text x="34.56" y="456.7" font-family="'Liberation Sans', sans-serif" font-size="14.71" fill="#131722" font-weight="bold" textLength="84.41" lengthAdjust="spacingAndGlyphs">TradingView</text>
<g clip-path="url(#cpt)"><text x="24.22" y="423.4" font-family="'Liberation Sans', sans-serif" font-size="7.43" fill="#6a6d78" stroke="#6a6d78" stroke-width="0.18">May</text>
<text x="67.17" y="423.4" font-family="'Liberation Sans', sans-serif" font-size="7.43" fill="#6a6d78" stroke="#6a6d78" stroke-width="0.18">Jul</text>
<text x="105.29" y="423.4" font-family="'Liberation Sans', sans-serif" font-size="7.43" fill="#6a6d78" stroke="#6a6d78" stroke-width="0.18">Sep</text>
<text x="145.21" y="423.4" font-family="'Liberation Sans', sans-serif" font-size="7.43" fill="#6a6d78" stroke="#6a6d78" stroke-width="0.18">Nov</text>
<text x="179.44" y="423.4" font-family="'Liberation Sans', sans-serif" font-size="7.57" fill="#363a45" font-weight="bold">2023</text>
<text x="221.39" y="423.4" font-family="'Liberation Sans', sans-serif" font-size="7.43" fill="#6a6d78" stroke="#6a6d78" stroke-width="0.18">Mar</text>
<text x="256.45" y="423.4" font-family="'Liberation Sans', sans-serif" font-size="7.43" fill="#6a6d78" stroke="#6a6d78" stroke-width="0.18">May</text>
<text x="299.4" y="423.4" font-family="'Liberation Sans', sans-serif" font-size="7.43" fill="#6a6d78" stroke="#6a6d78" stroke-width="0.18">Jul</text>
<text x="337.53" y="423.4" font-family="'Liberation Sans', sans-serif" font-size="7.43" fill="#6a6d78" stroke="#6a6d78" stroke-width="0.18">Sep</text>
<text x="377.44" y="423.4" font-family="'Liberation Sans', sans-serif" font-size="7.43" fill="#6a6d78" stroke="#6a6d78" stroke-width="0.18">Nov</text>
<text x="411.52" y="423.4" font-family="'Liberation Sans', sans-serif" font-size="7.57" fill="#363a45" font-weight="bold">2024</text>
<text x="453.62" y="423.4" font-family="'Liberation Sans', sans-serif" font-size="7.43" fill="#6a6d78" stroke="#6a6d78" stroke-width="0.18">Mar</text>
<text x="493.15" y="423.4" font-family="'Liberation Sans', sans-serif" font-size="7.43" fill="#6a6d78" stroke="#6a6d78" stroke-width="0.18">May</text>
<text x="531.63" y="423.4" font-family="'Liberation Sans', sans-serif" font-size="7.43" fill="#6a6d78" stroke="#6a6d78" stroke-width="0.18">Jul</text>
<text x="569.76" y="423.4" font-family="'Liberation Sans', sans-serif" font-size="7.43" fill="#6a6d78" stroke="#6a6d78" stroke-width="0.18">Sep</text>
<text x="609.67" y="423.4" font-family="'Liberation Sans', sans-serif" font-size="7.43" fill="#6a6d78" stroke="#6a6d78" stroke-width="0.18">Nov</text>
<text x="648.33" y="423.4" font-family="'Liberation Sans', sans-serif" font-size="7.57" fill="#363a45" font-weight="bold">2025</text>
<text x="685.85" y="423.4" font-family="'Liberation Sans', sans-serif" font-size="7.43" fill="#6a6d78" stroke="#6a6d78" stroke-width="0.18">Mar</text>
<text x="725.38" y="423.4" font-family="'Liberation Sans', sans-serif" font-size="7.43" fill="#6a6d78" stroke="#6a6d78" stroke-width="0.18">May</text>
<text x="768.33" y="423.4" font-family="'Liberation Sans', sans-serif" font-size="7.43" fill="#6a6d78" stroke="#6a6d78" stroke-width="0.18">Jul</text>
<text x="801.99" y="423.4" font-family="'Liberation Sans', sans-serif" font-size="7.43" fill="#6a6d78" stroke="#6a6d78" stroke-width="0.18">Sep</text>
<text x="841.91" y="423.4" font-family="'Liberation Sans', sans-serif" font-size="7.43" fill="#6a6d78" stroke="#6a6d78" stroke-width="0.18">Nov</text>
<text x="880.6" y="423.4" font-family="'Liberation Sans', sans-serif" font-size="7.57" fill="#363a45" font-weight="bold">2026</text>
<text x="918.08" y="423.4" font-family="'Liberation Sans', sans-serif" font-size="7.43" fill="#6a6d78" stroke="#6a6d78" stroke-width="0.18">Mar</text>
<text x="957.61" y="423.4" font-family="'Liberation Sans', sans-serif" font-size="7.43" fill="#6a6d78" stroke="#6a6d78" stroke-width="0.18">May</text></g>
</svg>
</body></html>
